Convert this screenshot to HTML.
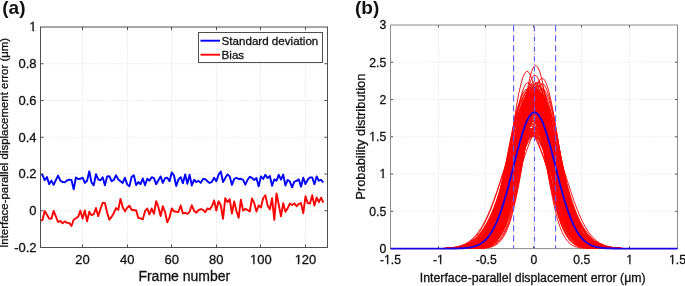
<!DOCTYPE html>
<html><head><meta charset="utf-8"><style>
html,body{margin:0;padding:0;background:#fff;width:685px;height:286px;overflow:hidden}
svg{display:block;will-change:transform}
text{font-family:"Liberation Sans", sans-serif;fill:#111;stroke:#111;stroke-width:0.3px}
</style></head><body>
<svg width="685" height="286" viewBox="0 0 685 286">
<rect width="685" height="286" fill="#fff"/>
<path d="M82.50 27.0V247.5M127.50 27.0V247.5M171.50 27.0V247.5M216.50 27.0V247.5M260.50 27.0V247.5M305.50 27.0V247.5M40.5 210.75H327.5M40.5 174.00H327.5M40.5 137.25H327.5M40.5 100.50H327.5M40.5 63.75H327.5" stroke="#e0e0e0" stroke-width="1" stroke-dasharray="1 1.6" fill="none"/>
<polyline points="40.25,220.5 42.48,220.0 44.71,211.1 46.94,214.8 49.17,218.5 51.39,218.8 53.62,210.9 55.85,216.4 58.08,222.0 60.31,220.9 62.54,223.3 64.77,221.4 67.00,222.9 69.23,222.9 71.46,226.0 73.69,219.7 75.91,218.2 78.14,216.8 80.37,210.7 82.60,218.5 84.83,210.4 87.06,221.2 89.29,211.7 91.52,215.2 93.75,214.2 95.97,208.0 98.20,216.2 100.43,209.3 102.66,202.7 104.89,203.0 107.12,212.5 109.35,219.7 111.58,216.9 113.81,213.0 116.04,208.1 118.27,209.8 120.49,198.9 122.72,207.2 124.95,211.4 127.18,207.7 129.41,205.7 131.64,209.8 133.87,210.3 136.10,210.3 138.33,217.9 140.56,218.4 142.78,219.3 145.01,211.2 147.24,208.5 149.47,214.4 151.70,208.5 153.93,213.8 156.16,201.1 158.39,207.2 160.62,216.0 162.84,206.3 165.07,212.0 167.30,222.4 169.53,217.3 171.76,208.4 173.99,211.3 176.22,211.8 178.45,212.0 180.68,205.5 182.91,213.4 185.14,212.8 187.36,213.9 189.59,211.8 191.82,205.3 194.05,210.7 196.28,212.7 198.51,210.1 200.74,209.1 202.97,209.9 205.20,212.2 207.43,208.4 209.65,209.4 211.88,206.3 214.11,200.5 216.34,210.5 218.57,201.3 220.80,205.2 223.03,218.9 225.26,198.2 227.49,202.1 229.72,199.2 231.94,213.6 234.17,201.4 236.40,211.0 238.63,217.8 240.86,199.7 243.09,210.5 245.32,208.9 247.55,209.9 249.78,211.5 252.00,198.4 254.23,203.1 256.46,211.5 258.69,205.5 260.92,207.6 263.15,198.2 265.38,195.2 267.61,205.4 269.84,209.2 272.07,198.2 274.30,220.0 276.52,193.4 278.75,204.6 280.98,216.3 283.21,203.2 285.44,211.8 287.67,208.2 289.90,203.5 292.13,205.0 294.36,203.4 296.59,206.2 298.81,204.0 301.04,203.1 303.27,213.2 305.50,196.3 307.73,203.1 309.96,203.5 312.19,195.2 314.42,205.6 316.65,197.4 318.88,202.2 321.10,197.7 323.33,202.7" fill="none" stroke="#ff0000" stroke-width="1.9" stroke-linejoin="round"/>
<polyline points="40.25,174.2 42.48,174.8 44.71,180.2 46.94,177.1 49.17,184.2 51.39,180.6 53.62,184.8 55.85,180.2 58.08,175.6 60.31,180.6 62.54,182.0 64.77,182.4 67.00,180.5 69.23,179.7 71.46,180.0 73.69,189.3 75.91,177.5 78.14,179.0 80.37,178.8 82.60,177.7 84.83,182.9 87.06,180.7 89.29,171.3 91.52,182.5 93.75,185.3 95.97,174.2 98.20,179.4 100.43,180.3 102.66,177.2 104.89,185.3 107.12,176.4 109.35,176.2 111.58,181.2 113.81,180.0 116.04,175.3 118.27,179.4 120.49,181.2 122.72,182.9 124.95,177.7 127.18,184.4 129.41,186.4 131.64,176.8 133.87,175.3 136.10,185.1 138.33,182.0 140.56,184.2 142.78,178.5 145.01,185.3 147.24,178.8 149.47,180.7 151.70,177.2 153.93,178.1 156.16,184.2 158.39,180.3 160.62,176.4 162.84,182.9 165.07,178.1 167.30,177.7 169.53,181.2 171.76,172.4 173.99,175.5 176.22,186.0 178.45,179.4 180.68,177.2 182.91,183.2 185.14,174.4 187.36,183.8 189.59,174.6 191.82,185.5 194.05,179.8 196.28,182.0 198.51,180.9 200.74,182.9 202.97,179.0 205.20,179.1 207.43,181.2 209.65,183.0 211.88,181.8 214.11,177.7 216.34,181.2 218.57,174.6 220.80,171.5 223.03,182.0 225.26,178.1 227.49,174.4 229.72,176.4 231.94,184.9 234.17,179.0 236.40,177.7 238.63,179.0 240.86,178.8 243.09,179.8 245.32,184.7 247.55,179.8 249.78,176.8 252.00,177.9 254.23,180.0 256.46,177.9 258.69,186.4 260.92,176.4 263.15,179.0 265.38,174.8 267.61,178.1 269.84,175.9 272.07,185.8 274.30,179.4 276.52,180.7 278.75,174.8 280.98,179.7 283.21,174.6 285.44,185.5 287.67,179.9 289.90,181.6 292.13,187.3 294.36,181.6 296.59,180.9 298.81,179.4 301.04,186.7 303.27,177.7 305.50,184.1 307.73,179.7 309.96,177.4 312.19,177.4 314.42,184.2 316.65,176.5 318.88,180.7 321.10,179.9 323.33,182.5" fill="none" stroke="#0000ff" stroke-width="1.9" stroke-linejoin="round"/>
<path d="M82.50 247.5v-3M82.50 27.0v3M127.50 247.5v-3M127.50 27.0v3M171.50 247.5v-3M171.50 27.0v3M216.50 247.5v-3M216.50 27.0v3M260.50 247.5v-3M260.50 27.0v3M305.50 247.5v-3M305.50 27.0v3M40.5 210.75h3M327.5 210.75h-3M40.5 174.00h3M327.5 174.00h-3M40.5 137.25h3M327.5 137.25h-3M40.5 100.50h3M327.5 100.50h-3M40.5 63.75h3M327.5 63.75h-3" stroke="#4f4f4f" stroke-width="1" fill="none"/>
<rect x="40.5" y="27.0" width="287.0" height="220.5" fill="none" stroke="#4f4f4f" stroke-width="1"/>
<rect x="198.5" y="32.5" width="124" height="30" fill="#fff" stroke="#4f4f4f" stroke-width="1"/>
<path d="M200.5 40.7H220" stroke="#0000ff" stroke-width="1.9"/>
<path d="M200.5 54.7H220" stroke="#ff0000" stroke-width="1.9"/>
<text x="221.6" y="44.8" font-size="11.6">Standard deviation</text>
<text x="221.6" y="59.2" font-size="11.6">Bias</text>
<text x="82.60" y="264.30" font-size="13" text-anchor="middle">20</text>
<text x="127.18" y="264.30" font-size="13" text-anchor="middle">40</text>
<text x="171.76" y="264.30" font-size="13" text-anchor="middle">60</text>
<text x="216.34" y="264.30" font-size="13" text-anchor="middle">80</text>
<text x="260.92" y="264.30" font-size="13" text-anchor="middle">100</text>
<text x="305.50" y="264.30" font-size="13" text-anchor="middle">120</text>
<text x="36.60" y="251.90" font-size="13" text-anchor="end">-0.2</text>
<text x="36.60" y="215.15" font-size="13" text-anchor="end">0</text>
<text x="36.60" y="178.40" font-size="13" text-anchor="end">0.2</text>
<text x="36.60" y="141.65" font-size="13" text-anchor="end">0.4</text>
<text x="36.60" y="104.90" font-size="13" text-anchor="end">0.6</text>
<text x="36.60" y="68.15" font-size="13" text-anchor="end">0.8</text>
<text x="36.60" y="31.40" font-size="13" text-anchor="end">1</text>
<text x="184.3" y="280.8" font-size="14" text-anchor="middle">Frame number</text>
<text transform="translate(8.4 142.85) rotate(-90)" font-size="11.45" text-anchor="middle">Interface-parallel displacement error (&#956;m)</text>
<text x="2.3" y="13.6" font-size="19" font-weight="bold" style="stroke:none">(a)</text>
<path d="M438.50 25.0V248.6M485.50 25.0V248.6M533.50 25.0V248.6M581.50 25.0V248.6M629.50 25.0V248.6M390.5 211.33H677.5M390.5 174.07H677.5M390.5 136.80H677.5M390.5 99.53H677.5M390.5 62.27H677.5" stroke="#e0e0e0" stroke-width="1" stroke-dasharray="1 1.6" fill="none"/>
<path d="M438.50 248.6v-2.5M438.50 25.0v2.5M485.50 248.6v-2.5M485.50 25.0v2.5M533.50 248.6v-2.5M533.50 25.0v2.5M581.50 248.6v-2.5M581.50 25.0v2.5M629.50 248.6v-2.5M629.50 25.0v2.5M390.5 211.33h2.5M677.5 211.33h-2.5M390.5 174.07h2.5M677.5 174.07h-2.5M390.5 136.80h2.5M677.5 136.80h-2.5M390.5 99.53h2.5M677.5 99.53h-2.5M390.5 62.27h2.5M677.5 62.27h-2.5" stroke="#555" stroke-width="1" fill="none"/>
<rect x="390.5" y="25.0" width="287.0" height="223.6" fill="none" stroke="#8c8c8c" stroke-width="1"/>
<path d="M452.0 248.3L455.0 248.1L458.0 247.9L461.1 247.6L464.1 247.1L467.1 246.5L470.1 245.7L473.1 244.5L476.1 243.1L479.1 241.1L482.2 238.7L485.2 235.7L488.2 232.0L491.2 227.6L494.2 222.4L497.2 216.4L500.3 209.7L503.3 202.3L506.3 194.2L509.3 185.8L512.3 177.1L515.3 168.4L518.3 160.1L521.4 152.4L524.4 145.6L527.4 139.9L530.4 135.7L533.4 133.1L536.4 132.2L539.5 133.1L542.5 135.7L545.5 139.9L548.5 145.6L551.5 152.4L554.5 160.1L557.5 168.4L560.6 177.1L563.6 185.8L566.6 194.2L569.6 202.3L572.6 209.7L575.6 216.4L578.7 222.4L581.7 227.6L584.7 232.0L587.7 235.7L590.7 238.7L593.7 241.1L596.8 243.1L599.8 244.5L602.8 245.7L605.8 246.5L608.8 247.1L611.8 247.6L614.8 247.9L617.9 248.1L620.9 248.3M473.2 248.3L475.5 248.1L477.8 247.9L480.0 247.5L482.3 247.0L484.6 246.3L486.9 245.3L489.2 244.0L491.5 242.2L493.8 239.8L496.0 236.8L498.3 233.0L500.6 228.3L502.9 222.6L505.2 215.8L507.5 207.8L509.7 198.8L512.0 188.8L514.3 177.8L516.6 166.2L518.9 154.2L521.2 142.2L523.5 130.5L525.7 119.7L528.0 110.0L530.3 102.1L532.6 96.1L534.9 92.4L537.2 91.1L539.4 92.4L541.7 96.1L544.0 102.1L546.3 110.0L548.6 119.7L550.9 130.5L553.2 142.2L555.4 154.2L557.7 166.2L560.0 177.8L562.3 188.8L564.6 198.8L566.9 207.8L569.1 215.8L571.4 222.6L573.7 228.3L576.0 233.0L578.3 236.8L580.6 239.8L582.9 242.2L585.1 244.0L587.4 245.3L589.7 246.3L592.0 247.0L594.3 247.5L596.6 247.9L598.8 248.1L601.1 248.3M475.4 248.3L477.6 248.1L479.8 247.9L482.0 247.5L484.2 247.0L486.4 246.3L488.6 245.3L490.9 243.9L493.1 242.1L495.3 239.7L497.5 236.6L499.7 232.6L501.9 227.8L504.1 221.9L506.3 214.9L508.5 206.7L510.8 197.4L513.0 187.0L515.2 175.6L517.4 163.6L519.6 151.1L521.8 138.6L524.0 126.5L526.2 115.2L528.5 105.2L530.7 96.9L532.9 90.7L535.1 86.9L537.3 85.5L539.5 86.9L541.7 90.7L543.9 96.9L546.2 105.2L548.4 115.2L550.6 126.5L552.8 138.6L555.0 151.1L557.2 163.6L559.4 175.6L561.6 187.0L563.9 197.4L566.1 206.7L568.3 214.9L570.5 221.9L572.7 227.8L574.9 232.6L577.1 236.6L579.3 239.7L581.6 242.1L583.8 243.9L586.0 245.3L588.2 246.3L590.4 247.0L592.6 247.5L594.8 247.9L597.0 248.1L599.3 248.3M461.3 248.3L463.8 248.1L466.4 247.9L469.0 247.6L471.6 247.1L474.1 246.4L476.7 245.5L479.3 244.2L481.8 242.6L484.4 240.4L487.0 237.6L489.5 234.2L492.1 229.9L494.7 224.8L497.2 218.7L499.8 211.7L502.4 203.7L504.9 194.9L507.5 185.3L510.1 175.1L512.7 164.6L515.2 154.2L517.8 144.0L520.4 134.6L522.9 126.3L525.5 119.4L528.1 114.3L530.6 111.1L533.2 110.0L535.8 111.1L538.3 114.3L540.9 119.4L543.5 126.3L546.0 134.6L548.6 144.0L551.2 154.2L553.7 164.6L556.3 175.1L558.9 185.3L561.5 194.9L564.0 203.7L566.6 211.7L569.2 218.7L571.7 224.8L574.3 229.9L576.9 234.2L579.4 237.6L582.0 240.4L584.6 242.6L587.1 244.2L589.7 245.5L592.3 246.4L594.8 247.1L597.4 247.6L600.0 247.9L602.6 248.1L605.1 248.3M474.0 248.3L476.3 248.1L478.6 247.9L480.9 247.5L483.2 247.0L485.5 246.3L487.8 245.3L490.1 244.0L492.4 242.2L494.7 239.9L497.0 236.8L499.3 233.1L501.6 228.4L503.8 222.7L506.1 215.9L508.4 208.1L510.7 199.1L513.0 189.1L515.3 178.2L517.6 166.7L519.9 154.8L522.2 142.8L524.5 131.3L526.8 120.5L529.1 111.0L531.4 103.0L533.7 97.1L536.0 93.4L538.3 92.2L540.6 93.4L542.9 97.1L545.2 103.0L547.5 111.0L549.8 120.5L552.1 131.3L554.4 142.8L556.7 154.8L559.0 166.7L561.3 178.2L563.6 189.1L565.9 199.1L568.2 208.1L570.5 215.9L572.8 222.7L575.1 228.4L577.4 233.1L579.7 236.8L582.0 239.9L584.3 242.2L586.6 244.0L588.9 245.3L591.2 246.3L593.5 247.0L595.8 247.5L598.1 247.9L600.4 248.1L602.7 248.3M465.2 248.3L467.5 248.1L469.9 247.9L472.2 247.5L474.5 247.0L476.8 246.3L479.1 245.3L481.4 244.0L483.8 242.2L486.1 239.9L488.4 236.9L490.7 233.1L493.0 228.5L495.4 222.9L497.7 216.2L500.0 208.4L502.3 199.5L504.6 189.6L507.0 178.8L509.3 167.4L511.6 155.6L513.9 143.8L516.2 132.3L518.6 121.7L520.9 112.2L523.2 104.4L525.5 98.5L527.8 94.9L530.2 93.7L532.5 94.9L534.8 98.5L537.1 104.4L539.4 112.2L541.7 121.7L544.1 132.3L546.4 143.8L548.7 155.6L551.0 167.4L553.3 178.8L555.7 189.6L558.0 199.5L560.3 208.4L562.6 216.2L564.9 222.9L567.3 228.5L569.6 233.1L571.9 236.9L574.2 239.9L576.5 242.2L578.9 244.0L581.2 245.3L583.5 246.3L585.8 247.0L588.1 247.5L590.4 247.9L592.8 248.1L595.1 248.3M464.5 248.3L467.0 248.1L469.4 247.9L471.9 247.6L474.3 247.1L476.8 246.4L479.3 245.4L481.7 244.1L484.2 242.4L486.6 240.2L489.1 237.3L491.5 233.7L494.0 229.3L496.5 224.0L498.9 217.6L501.4 210.3L503.8 201.9L506.3 192.6L508.7 182.5L511.2 171.8L513.6 160.8L516.1 149.7L518.6 139.0L521.0 129.1L523.5 120.3L525.9 113.0L528.4 107.6L530.8 104.2L533.3 103.0L535.7 104.2L538.2 107.6L540.7 113.0L543.1 120.3L545.6 129.1L548.0 139.0L550.5 149.7L552.9 160.8L555.4 171.8L557.8 182.5L560.3 192.6L562.8 201.9L565.2 210.3L567.7 217.6L570.1 224.0L572.6 229.3L575.0 233.7L577.5 237.3L579.9 240.2L582.4 242.4L584.9 244.1L587.3 245.4L589.8 246.4L592.2 247.1L594.7 247.6L597.1 247.9L599.6 248.1L602.0 248.3M475.5 248.3L477.8 248.1L480.1 247.9L482.4 247.5L484.7 247.0L487.0 246.3L489.3 245.3L491.6 244.0L494.0 242.2L496.3 239.9L498.6 236.9L500.9 233.1L503.2 228.4L505.5 222.8L507.8 216.0L510.1 208.2L512.4 199.3L514.7 189.4L517.1 178.6L519.4 167.1L521.7 155.2L524.0 143.4L526.3 131.9L528.6 121.2L530.9 111.7L533.2 103.8L535.5 97.9L537.8 94.2L540.2 93.0L542.5 94.2L544.8 97.9L547.1 103.8L549.4 111.7L551.7 121.2L554.0 131.9L556.3 143.4L558.6 155.2L560.9 167.1L563.3 178.6L565.6 189.4L567.9 199.3L570.2 208.2L572.5 216.0L574.8 222.8L577.1 228.4L579.4 233.1L581.7 236.9L584.0 239.9L586.3 242.2L588.7 244.0L591.0 245.3L593.3 246.3L595.6 247.0L597.9 247.5L600.2 247.9L602.5 248.1L604.8 248.3M448.6 248.3L451.7 248.1L454.8 247.9L457.9 247.6L460.9 247.2L464.0 246.5L467.1 245.7L470.2 244.6L473.2 243.1L476.3 241.2L479.4 238.8L482.5 235.9L485.5 232.3L488.6 227.9L491.7 222.8L494.8 217.0L497.8 210.4L500.9 203.1L504.0 195.2L507.1 187.0L510.1 178.5L513.2 170.0L516.3 161.9L519.4 154.3L522.4 147.7L525.5 142.2L528.6 138.1L531.7 135.5L534.7 134.7L537.8 135.5L540.9 138.1L544.0 142.2L547.0 147.7L550.1 154.3L553.2 161.9L556.3 170.0L559.3 178.5L562.4 187.0L565.5 195.2L568.6 203.1L571.6 210.4L574.7 217.0L577.8 222.8L580.9 227.9L583.9 232.3L587.0 235.9L590.1 238.8L593.2 241.2L596.2 243.1L599.3 244.6L602.4 245.7L605.5 246.5L608.5 247.2L611.6 247.6L614.7 247.9L617.8 248.1L620.8 248.3M472.1 248.3L474.3 248.1L476.6 247.9L478.8 247.5L481.1 247.0L483.4 246.3L485.6 245.3L487.9 243.9L490.1 242.1L492.4 239.8L494.7 236.7L496.9 232.9L499.2 228.1L501.4 222.3L503.7 215.5L506.0 207.5L508.2 198.3L510.5 188.2L512.7 177.1L515.0 165.3L517.3 153.2L519.5 141.0L521.8 129.2L524.0 118.2L526.3 108.4L528.6 100.4L530.8 94.3L533.1 90.5L535.3 89.3L537.6 90.5L539.9 94.3L542.1 100.4L544.4 108.4L546.6 118.2L548.9 129.2L551.2 141.0L553.4 153.2L555.7 165.3L557.9 177.1L560.2 188.2L562.5 198.3L564.7 207.5L567.0 215.5L569.2 222.3L571.5 228.1L573.8 232.9L576.0 236.7L578.3 239.8L580.5 242.1L582.8 243.9L585.1 245.3L587.3 246.3L589.6 247.0L591.8 247.5L594.1 247.9L596.4 248.1L598.6 248.3M445.3 248.3L448.4 248.1L451.5 247.9L454.6 247.6L457.8 247.2L460.9 246.5L464.0 245.7L467.1 244.6L470.2 243.2L473.3 241.3L476.4 238.9L479.5 236.0L482.7 232.4L485.8 228.1L488.9 223.1L492.0 217.3L495.1 210.8L498.2 203.6L501.3 195.9L504.5 187.7L507.6 179.3L510.7 171.0L513.8 163.0L516.9 155.6L520.0 149.0L523.1 143.6L526.2 139.5L529.4 137.0L532.5 136.2L535.6 137.0L538.7 139.5L541.8 143.6L544.9 149.0L548.0 155.6L551.1 163.0L554.3 171.0L557.4 179.3L560.5 187.7L563.6 195.9L566.7 203.6L569.8 210.8L572.9 217.3L576.0 223.1L579.2 228.1L582.3 232.4L585.4 236.0L588.5 238.9L591.6 241.3L594.7 243.2L597.8 244.6L601.0 245.7L604.1 246.5L607.2 247.2L610.3 247.6L613.4 247.9L616.5 248.1L619.6 248.3M454.9 248.3L457.6 248.1L460.3 247.9L462.9 247.6L465.6 247.1L468.2 246.4L470.9 245.5L473.6 244.3L476.2 242.7L478.9 240.6L481.5 237.9L484.2 234.5L486.9 230.4L489.5 225.5L492.2 219.6L494.8 212.8L497.5 205.1L500.2 196.6L502.8 187.3L505.5 177.6L508.1 167.5L510.8 157.5L513.5 147.8L516.1 138.8L518.8 130.8L521.4 124.2L524.1 119.3L526.8 116.2L529.4 115.2L532.1 116.2L534.7 119.3L537.4 124.2L540.1 130.8L542.7 138.8L545.4 147.8L548.0 157.5L550.7 167.5L553.4 177.6L556.0 187.3L558.7 196.6L561.3 205.1L564.0 212.8L566.7 219.6L569.3 225.5L572.0 230.4L574.7 234.5L577.3 237.9L580.0 240.6L582.6 242.7L585.3 244.3L588.0 245.5L590.6 246.4L593.3 247.1L595.9 247.6L598.6 247.9L601.3 248.1L603.9 248.3M446.0 248.3L449.0 248.1L452.0 247.9L455.1 247.6L458.1 247.2L461.1 246.5L464.2 245.7L467.2 244.6L470.2 243.1L473.3 241.2L476.3 238.8L479.3 235.7L482.4 232.1L485.4 227.7L488.4 222.5L491.5 216.6L494.5 209.9L497.5 202.5L500.6 194.5L503.6 186.1L506.6 177.5L509.7 168.9L512.7 160.6L515.7 152.9L518.8 146.2L521.8 140.6L524.8 136.4L527.9 133.8L530.9 132.9L533.9 133.8L537.0 136.4L540.0 140.6L543.0 146.2L546.1 152.9L549.1 160.6L552.1 168.9L555.2 177.5L558.2 186.1L561.2 194.5L564.2 202.5L567.3 209.9L570.3 216.6L573.3 222.5L576.4 227.7L579.4 232.1L582.4 235.7L585.5 238.8L588.5 241.2L591.5 243.1L594.6 244.6L597.6 245.7L600.6 246.5L603.7 247.2L606.7 247.6L609.7 247.9L612.8 248.1L615.8 248.3M470.3 248.3L472.7 248.1L475.1 247.9L477.4 247.5L479.8 247.0L482.2 246.3L484.6 245.4L487.0 244.1L489.4 242.3L491.8 240.0L494.2 237.1L496.6 233.5L498.9 228.9L501.3 223.4L503.7 216.9L506.1 209.4L508.5 200.8L510.9 191.2L513.3 180.8L515.7 169.7L518.1 158.3L520.4 146.9L522.8 135.9L525.2 125.6L527.6 116.5L530.0 108.9L532.4 103.3L534.8 99.8L537.2 98.6L539.6 99.8L541.9 103.3L544.3 108.9L546.7 116.5L549.1 125.6L551.5 135.9L553.9 146.9L556.3 158.3L558.7 169.7L561.1 180.8L563.4 191.2L565.8 200.8L568.2 209.4L570.6 216.9L573.0 223.4L575.4 228.9L577.8 233.5L580.2 237.1L582.6 240.0L584.9 242.3L587.3 244.1L589.7 245.4L592.1 246.3L594.5 247.0L596.9 247.5L599.3 247.9L601.7 248.1L604.1 248.3M473.5 248.3L475.8 248.1L478.2 247.9L480.5 247.5L482.9 247.0L485.2 246.3L487.6 245.4L489.9 244.0L492.3 242.3L494.6 240.0L497.0 237.0L499.3 233.3L501.7 228.7L504.0 223.1L506.4 216.5L508.7 208.8L511.1 200.1L513.4 190.3L515.8 179.7L518.1 168.5L520.5 156.8L522.8 145.2L525.2 133.9L527.5 123.5L529.9 114.2L532.2 106.5L534.6 100.7L536.9 97.1L539.3 95.9L541.6 97.1L544.0 100.7L546.3 106.5L548.7 114.2L551.0 123.5L553.4 133.9L555.7 145.2L558.1 156.8L560.4 168.5L562.8 179.7L565.1 190.3L567.5 200.1L569.8 208.8L572.2 216.5L574.5 223.1L576.9 228.7L579.2 233.3L581.6 237.0L583.9 240.0L586.3 242.3L588.7 244.0L591.0 245.4L593.4 246.3L595.7 247.0L598.1 247.5L600.4 247.9L602.8 248.1L605.1 248.3M477.9 248.3L480.1 248.1L482.2 247.9L484.4 247.5L486.6 247.0L488.7 246.3L490.9 245.2L493.1 243.8L495.2 242.0L497.4 239.5L499.5 236.4L501.7 232.4L503.9 227.4L506.0 221.4L508.2 214.3L510.4 205.9L512.5 196.4L514.7 185.7L516.9 174.1L519.0 161.7L521.2 148.9L523.3 136.1L525.5 123.7L527.7 112.1L529.8 101.8L532.0 93.3L534.2 86.9L536.3 82.9L538.5 81.5L540.7 82.9L542.8 86.9L545.0 93.3L547.1 101.8L549.3 112.1L551.5 123.7L553.6 136.1L555.8 148.9L558.0 161.7L560.1 174.1L562.3 185.7L564.4 196.4L566.6 205.9L568.8 214.3L570.9 221.4L573.1 227.4L575.3 232.4L577.4 236.4L579.6 239.5L581.8 242.0L583.9 243.8L586.1 245.2L588.2 246.3L590.4 247.0L592.6 247.5L594.7 247.9L596.9 248.1L599.1 248.3M467.3 248.3L469.6 248.1L472.0 247.9L474.3 247.5L476.7 247.0L479.0 246.3L481.4 245.4L483.7 244.0L486.1 242.3L488.4 240.0L490.8 237.0L493.1 233.3L495.5 228.7L497.8 223.1L500.2 216.5L502.5 208.8L504.9 200.1L507.2 190.3L509.6 179.7L511.9 168.5L514.3 156.9L516.6 145.3L519.0 134.0L521.3 123.5L523.7 114.3L526.0 106.6L528.4 100.8L530.8 97.2L533.1 96.0L535.5 97.2L537.8 100.8L540.2 106.6L542.5 114.3L544.9 123.5L547.2 134.0L549.6 145.3L551.9 156.9L554.3 168.5L556.6 179.7L559.0 190.3L561.3 200.1L563.7 208.8L566.0 216.5L568.4 223.1L570.7 228.7L573.1 233.3L575.4 237.0L577.8 240.0L580.1 242.3L582.5 244.0L584.8 245.4L587.2 246.3L589.5 247.0L591.9 247.5L594.2 247.9L596.6 248.1L599.0 248.3M463.3 248.3L465.7 248.1L468.1 247.9L470.5 247.5L472.9 247.0L475.2 246.3L477.6 245.4L480.0 244.1L482.4 242.3L484.8 240.0L487.2 237.1L489.6 233.4L491.9 228.9L494.3 223.4L496.7 216.9L499.1 209.3L501.5 200.7L503.9 191.1L506.2 180.6L508.6 169.6L511.0 158.2L513.4 146.7L515.8 135.7L518.2 125.4L520.6 116.2L522.9 108.7L525.3 103.0L527.7 99.5L530.1 98.3L532.5 99.5L534.9 103.0L537.3 108.7L539.6 116.2L542.0 125.4L544.4 135.7L546.8 146.7L549.2 158.2L551.6 169.6L553.9 180.6L556.3 191.1L558.7 200.7L561.1 209.3L563.5 216.9L565.9 223.4L568.3 228.9L570.6 233.4L573.0 237.1L575.4 240.0L577.8 242.3L580.2 244.1L582.6 245.4L584.9 246.3L587.3 247.0L589.7 247.5L592.1 247.9L594.5 248.1L596.9 248.3M464.8 248.3L467.6 248.1L470.3 247.9L473.0 247.6L475.7 247.1L478.5 246.4L481.2 245.5L483.9 244.3L486.6 242.7L489.4 240.7L492.1 238.0L494.8 234.8L497.5 230.7L500.2 225.9L503.0 220.1L505.7 213.5L508.4 206.0L511.1 197.7L513.9 188.7L516.6 179.2L519.3 169.4L522.0 159.6L524.7 150.2L527.5 141.4L530.2 133.7L532.9 127.3L535.6 122.5L538.4 119.5L541.1 118.5L543.8 119.5L546.5 122.5L549.3 127.3L552.0 133.7L554.7 141.4L557.4 150.2L560.1 159.6L562.9 169.4L565.6 179.2L568.3 188.7L571.0 197.7L573.8 206.0L576.5 213.5L579.2 220.1L581.9 225.9L584.7 230.7L587.4 234.8L590.1 238.0L592.8 240.7L595.5 242.7L598.3 244.3L601.0 245.5L603.7 246.4L606.4 247.1L609.2 247.6L611.9 247.9L614.6 248.1L617.3 248.3M453.8 248.3L456.6 248.1L459.4 247.9L462.2 247.6L465.0 247.1L467.9 246.5L470.7 245.6L473.5 244.4L476.3 242.9L479.2 240.8L482.0 238.3L484.8 235.1L487.6 231.2L490.4 226.5L493.3 221.0L496.1 214.6L498.9 207.3L501.7 199.3L504.5 190.7L507.4 181.5L510.2 172.2L513.0 162.8L515.8 153.8L518.7 145.4L521.5 138.0L524.3 131.8L527.1 127.3L529.9 124.4L532.8 123.5L535.6 124.4L538.4 127.3L541.2 131.8L544.0 138.0L546.9 145.4L549.7 153.8L552.5 162.8L555.3 172.2L558.2 181.5L561.0 190.7L563.8 199.3L566.6 207.3L569.4 214.6L572.3 221.0L575.1 226.5L577.9 231.2L580.7 235.1L583.5 238.3L586.4 240.8L589.2 242.9L592.0 244.4L594.8 245.6L597.7 246.5L600.5 247.1L603.3 247.6L606.1 247.9L608.9 248.1L611.8 248.3M463.6 248.3L466.1 248.1L468.6 247.9L471.1 247.6L473.6 247.1L476.0 246.4L478.5 245.4L481.0 244.1L483.5 242.5L486.0 240.2L488.5 237.4L490.9 233.8L493.4 229.5L495.9 224.2L498.4 217.9L500.9 210.6L503.3 202.3L505.8 193.2L508.3 183.2L510.8 172.6L513.3 161.7L515.8 150.8L518.2 140.2L520.7 130.4L523.2 121.7L525.7 114.6L528.2 109.2L530.6 105.8L533.1 104.7L535.6 105.8L538.1 109.2L540.6 114.6L543.1 121.7L545.5 130.4L548.0 140.2L550.5 150.8L553.0 161.7L555.5 172.6L557.9 183.2L560.4 193.2L562.9 202.3L565.4 210.6L567.9 217.9L570.4 224.2L572.8 229.5L575.3 233.8L577.8 237.4L580.3 240.2L582.8 242.5L585.2 244.1L587.7 245.4L590.2 246.4L592.7 247.1L595.2 247.6L597.7 247.9L600.1 248.1L602.6 248.3M471.9 248.3L474.2 248.1L476.4 247.9L478.6 247.5L480.9 247.0L483.1 246.3L485.3 245.3L487.6 243.9L489.8 242.1L492.0 239.7L494.3 236.6L496.5 232.7L498.8 227.9L501.0 222.1L503.2 215.2L505.5 207.1L507.7 197.8L509.9 187.5L512.2 176.3L514.4 164.4L516.6 152.1L518.9 139.8L521.1 127.8L523.3 116.6L525.6 106.8L527.8 98.6L530.0 92.4L532.3 88.6L534.5 87.3L536.7 88.6L539.0 92.4L541.2 98.6L543.4 106.8L545.7 116.6L547.9 127.8L550.2 139.8L552.4 152.1L554.6 164.4L556.9 176.3L559.1 187.5L561.3 197.8L563.6 207.1L565.8 215.2L568.0 222.1L570.3 227.9L572.5 232.7L574.7 236.6L577.0 239.7L579.2 242.1L581.4 243.9L583.7 245.3L585.9 246.3L588.1 247.0L590.4 247.5L592.6 247.9L594.8 248.1L597.1 248.3M463.0 248.3L465.5 248.1L468.0 247.9L470.6 247.6L473.1 247.1L475.6 246.4L478.1 245.4L480.7 244.2L483.2 242.5L485.7 240.3L488.2 237.5L490.7 234.0L493.3 229.7L495.8 224.5L498.3 218.3L500.8 211.2L503.4 203.0L505.9 194.0L508.4 184.2L510.9 173.8L513.5 163.1L516.0 152.4L518.5 142.1L521.0 132.5L523.6 124.0L526.1 116.9L528.6 111.6L531.1 108.4L533.6 107.3L536.2 108.4L538.7 111.6L541.2 116.9L543.7 124.0L546.3 132.5L548.8 142.1L551.3 152.4L553.8 163.1L556.4 173.8L558.9 184.2L561.4 194.0L563.9 203.0L566.4 211.2L569.0 218.3L571.5 224.5L574.0 229.7L576.5 234.0L579.1 237.5L581.6 240.3L584.1 242.5L586.6 244.2L589.2 245.4L591.7 246.4L594.2 247.1L596.7 247.6L599.3 247.9L601.8 248.1L604.3 248.3M463.2 248.3L465.7 248.1L468.2 247.9L470.7 247.6L473.2 247.1L475.7 246.4L478.2 245.4L480.7 244.2L483.2 242.5L485.7 240.3L488.2 237.5L490.7 233.9L493.2 229.6L495.7 224.3L498.2 218.1L500.7 210.8L503.2 202.6L505.7 193.5L508.2 183.6L510.7 173.1L513.2 162.3L515.7 151.5L518.2 141.0L520.7 131.3L523.2 122.7L525.7 115.6L528.2 110.2L530.7 106.9L533.2 105.8L535.7 106.9L538.2 110.2L540.7 115.6L543.2 122.7L545.7 131.3L548.2 141.0L550.7 151.5L553.2 162.3L555.7 173.1L558.2 183.6L560.7 193.5L563.2 202.6L565.7 210.8L568.2 218.1L570.7 224.3L573.2 229.6L575.7 233.9L578.2 237.5L580.7 240.3L583.2 242.5L585.7 244.2L588.2 245.4L590.7 246.4L593.2 247.1L595.7 247.6L598.2 247.9L600.7 248.1L603.2 248.3M473.1 248.3L475.5 248.1L477.8 247.9L480.1 247.5L482.4 247.0L484.7 246.3L487.0 245.3L489.3 244.0L491.6 242.2L493.9 239.9L496.3 236.9L498.6 233.1L500.9 228.4L503.2 222.8L505.5 216.1L507.8 208.2L510.1 199.3L512.4 189.4L514.7 178.6L517.1 167.1L519.4 155.3L521.7 143.4L524.0 131.9L526.3 121.2L528.6 111.7L530.9 103.9L533.2 98.0L535.5 94.3L537.9 93.1L540.2 94.3L542.5 98.0L544.8 103.9L547.1 111.7L549.4 121.2L551.7 131.9L554.0 143.4L556.3 155.3L558.7 167.1L561.0 178.6L563.3 189.4L565.6 199.3L567.9 208.2L570.2 216.1L572.5 222.8L574.8 228.4L577.2 233.1L579.5 236.9L581.8 239.9L584.1 242.2L586.4 244.0L588.7 245.3L591.0 246.3L593.3 247.0L595.6 247.5L598.0 247.9L600.3 248.1L602.6 248.3M445.2 248.3L448.1 248.1L450.9 247.9L453.8 247.6L456.7 247.1L459.6 246.5L462.5 245.6L465.4 244.5L468.2 242.9L471.1 240.9L474.0 238.4L476.9 235.3L479.8 231.5L482.6 226.8L485.5 221.4L488.4 215.2L491.3 208.1L494.2 200.3L497.1 191.8L499.9 182.9L502.8 173.8L505.7 164.6L508.6 155.8L511.5 147.7L514.3 140.4L517.2 134.5L520.1 130.0L523.0 127.2L525.9 126.3L528.8 127.2L531.6 130.0L534.5 134.5L537.4 140.4L540.3 147.7L543.2 155.8L546.0 164.6L548.9 173.8L551.8 182.9L554.7 191.8L557.6 200.3L560.4 208.1L563.3 215.2L566.2 221.4L569.1 226.8L572.0 231.5L574.9 235.3L577.7 238.4L580.6 240.9L583.5 242.9L586.4 244.5L589.3 245.6L592.1 246.5L595.0 247.1L597.9 247.6L600.8 247.9L603.7 248.1L606.6 248.3M471.1 248.3L473.4 248.1L475.7 247.9L478.0 247.5L480.2 247.0L482.5 246.3L484.8 245.3L487.1 244.0L489.3 242.2L491.6 239.8L493.9 236.8L496.2 232.9L498.4 228.2L500.7 222.5L503.0 215.6L505.3 207.7L507.5 198.6L509.8 188.5L512.1 177.5L514.4 165.8L516.6 153.8L518.9 141.7L521.2 130.0L523.5 119.0L525.7 109.4L528.0 101.3L530.3 95.3L532.5 91.6L534.8 90.3L537.1 91.6L539.4 95.3L541.6 101.3L543.9 109.4L546.2 119.0L548.5 130.0L550.7 141.7L553.0 153.8L555.3 165.8L557.6 177.5L559.8 188.5L562.1 198.6L564.4 207.7L566.7 215.6L568.9 222.5L571.2 228.2L573.5 232.9L575.8 236.8L578.0 239.8L580.3 242.2L582.6 244.0L584.9 245.3L587.1 246.3L589.4 247.0L591.7 247.5L593.9 247.9L596.2 248.1L598.5 248.3M475.3 248.3L477.7 248.1L480.1 247.9L482.4 247.5L484.8 247.0L487.2 246.3L489.5 245.4L491.9 244.0L494.3 242.3L496.6 240.0L499.0 237.1L501.4 233.4L503.7 228.8L506.1 223.2L508.5 216.7L510.8 209.0L513.2 200.3L515.6 190.7L517.9 180.1L520.3 169.0L522.7 157.4L525.0 145.9L527.4 134.7L529.8 124.3L532.1 115.1L534.5 107.5L536.9 101.8L539.2 98.2L541.6 97.0L543.9 98.2L546.3 101.8L548.7 107.5L551.0 115.1L553.4 124.3L555.8 134.7L558.1 145.9L560.5 157.4L562.9 169.0L565.2 180.1L567.6 190.7L570.0 200.3L572.3 209.0L574.7 216.7L577.1 223.2L579.4 228.8L581.8 233.4L584.2 237.1L586.5 240.0L588.9 242.3L591.3 244.0L593.6 245.4L596.0 246.3L598.4 247.0L600.7 247.5L603.1 247.9L605.5 248.1L607.8 248.3M477.6 248.3L479.8 248.1L482.1 247.9L484.4 247.5L486.6 247.0L488.9 246.3L491.2 245.3L493.4 244.0L495.7 242.1L498.0 239.8L500.2 236.7L502.5 232.9L504.8 228.1L507.0 222.4L509.3 215.5L511.6 207.6L513.8 198.5L516.1 188.3L518.4 177.3L520.6 165.6L522.9 153.4L525.2 141.3L527.4 129.5L529.7 118.6L532.0 108.8L534.2 100.8L536.5 94.7L538.8 91.0L541.0 89.7L543.3 91.0L545.6 94.7L547.8 100.8L550.1 108.8L552.4 118.6L554.6 129.5L556.9 141.3L559.2 153.4L561.4 165.6L563.7 177.3L566.0 188.3L568.2 198.5L570.5 207.6L572.8 215.5L575.0 222.4L577.3 228.1L579.6 232.9L581.8 236.7L584.1 239.8L586.4 242.1L588.6 244.0L590.9 245.3L593.2 246.3L595.4 247.0L597.7 247.5L600.0 247.9L602.2 248.1L604.5 248.3M470.2 248.3L472.4 248.1L474.6 247.9L476.9 247.5L479.1 247.0L481.3 246.3L483.5 245.3L485.8 243.9L488.0 242.1L490.2 239.7L492.4 236.6L494.7 232.7L496.9 227.9L499.1 222.0L501.3 215.0L503.5 206.9L505.8 197.6L508.0 187.3L510.2 176.0L512.4 164.0L514.7 151.7L516.9 139.3L519.1 127.2L521.3 116.0L523.6 106.1L525.8 97.8L528.0 91.6L530.2 87.8L532.5 86.5L534.7 87.8L536.9 91.6L539.1 97.8L541.4 106.1L543.6 116.0L545.8 127.2L548.0 139.3L550.3 151.7L552.5 164.0L554.7 176.0L556.9 187.3L559.2 197.6L561.4 206.9L563.6 215.0L565.8 222.0L568.1 227.9L570.3 232.7L572.5 236.6L574.7 239.7L577.0 242.1L579.2 243.9L581.4 245.3L583.6 246.3L585.9 247.0L588.1 247.5L590.3 247.9L592.5 248.1L594.8 248.3M473.9 248.3L476.1 248.1L478.4 247.9L480.7 247.5L483.0 247.0L485.2 246.3L487.5 245.3L489.8 244.0L492.1 242.2L494.3 239.8L496.6 236.8L498.9 233.0L501.2 228.2L503.5 222.5L505.7 215.7L508.0 207.7L510.3 198.7L512.6 188.6L514.8 177.6L517.1 165.9L519.4 153.9L521.7 141.8L524.0 130.1L526.2 119.2L528.5 109.6L530.8 101.5L533.1 95.5L535.3 91.8L537.6 90.6L539.9 91.8L542.2 95.5L544.4 101.5L546.7 109.6L549.0 119.2L551.3 130.1L553.6 141.8L555.8 153.9L558.1 165.9L560.4 177.6L562.7 188.6L564.9 198.7L567.2 207.7L569.5 215.7L571.8 222.5L574.0 228.2L576.3 233.0L578.6 236.8L580.9 239.8L583.2 242.2L585.4 244.0L587.7 245.3L590.0 246.3L592.3 247.0L594.5 247.5L596.8 247.9L599.1 248.1L601.4 248.3M443.2 248.3L446.1 248.1L449.1 247.9L452.0 247.6L455.0 247.1L458.0 246.5L460.9 245.6L463.9 244.5L466.8 243.0L469.8 241.0L472.7 238.6L475.7 235.5L478.6 231.8L481.6 227.3L484.5 222.0L487.5 215.9L490.4 209.0L493.4 201.4L496.3 193.1L499.3 184.5L502.2 175.6L505.2 166.7L508.2 158.1L511.1 150.2L514.1 143.2L517.0 137.4L520.0 133.1L522.9 130.4L525.9 129.5L528.8 130.4L531.8 133.1L534.7 137.4L537.7 143.2L540.6 150.2L543.6 158.1L546.5 166.7L549.5 175.6L552.4 184.5L555.4 193.1L558.3 201.4L561.3 209.0L564.3 215.9L567.2 222.0L570.2 227.3L573.1 231.8L576.1 235.5L579.0 238.6L582.0 241.0L584.9 243.0L587.9 244.5L590.8 245.6L593.8 246.5L596.7 247.1L599.7 247.6L602.6 247.9L605.6 248.1L608.5 248.3M464.2 248.3L466.6 248.1L469.1 247.9L471.6 247.6L474.0 247.1L476.5 246.4L478.9 245.4L481.4 244.1L483.9 242.4L486.3 240.2L488.8 237.3L491.2 233.8L493.7 229.3L496.1 224.0L498.6 217.7L501.1 210.3L503.5 202.0L506.0 192.7L508.4 182.6L510.9 171.9L513.4 160.9L515.8 149.9L518.3 139.2L520.7 129.3L523.2 120.5L525.7 113.2L528.1 107.8L530.6 104.4L533.0 103.2L535.5 104.4L537.9 107.8L540.4 113.2L542.9 120.5L545.3 129.3L547.8 139.2L550.2 149.9L552.7 160.9L555.2 171.9L557.6 182.6L560.1 192.7L562.5 202.0L565.0 210.3L567.5 217.7L569.9 224.0L572.4 229.3L574.8 233.8L577.3 237.3L579.7 240.2L582.2 242.4L584.7 244.1L587.1 245.4L589.6 246.4L592.0 247.1L594.5 247.6L597.0 247.9L599.4 248.1L601.9 248.3M468.3 248.3L470.5 248.1L472.8 247.9L475.0 247.5L477.3 247.0L479.5 246.3L481.8 245.3L484.0 243.9L486.3 242.1L488.6 239.8L490.8 236.7L493.1 232.9L495.3 228.1L497.6 222.3L499.8 215.4L502.1 207.4L504.3 198.3L506.6 188.1L508.9 177.0L511.1 165.2L513.4 153.0L515.6 140.8L517.9 129.0L520.1 118.0L522.4 108.2L524.7 100.1L526.9 94.0L529.2 90.2L531.4 89.0L533.7 90.2L535.9 94.0L538.2 100.1L540.4 108.2L542.7 118.0L545.0 129.0L547.2 140.8L549.5 153.0L551.7 165.2L554.0 177.0L556.2 188.1L558.5 198.3L560.8 207.4L563.0 215.4L565.3 222.3L567.5 228.1L569.8 232.9L572.0 236.7L574.3 239.8L576.5 242.1L578.8 243.9L581.1 245.3L583.3 246.3L585.6 247.0L587.8 247.5L590.1 247.9L592.3 248.1L594.6 248.3M466.0 248.3L468.5 248.1L471.0 247.9L473.5 247.6L475.9 247.1L478.4 246.4L480.9 245.4L483.4 244.2L485.9 242.5L488.4 240.3L490.9 237.4L493.4 233.9L495.9 229.6L498.4 224.3L500.9 218.1L503.4 210.8L505.9 202.6L508.4 193.5L510.9 183.6L513.4 173.1L515.9 162.2L518.4 151.4L520.9 140.9L523.4 131.2L525.9 122.6L528.4 115.4L530.9 110.1L533.4 106.8L535.9 105.7L538.4 106.8L540.9 110.1L543.4 115.4L545.9 122.6L548.4 131.2L550.9 140.9L553.4 151.4L555.9 162.2L558.4 173.1L560.9 183.6L563.4 193.5L565.8 202.6L568.3 210.8L570.8 218.1L573.3 224.3L575.8 229.6L578.3 233.9L580.8 237.4L583.3 240.3L585.8 242.5L588.3 244.2L590.8 245.4L593.3 246.4L595.8 247.1L598.3 247.6L600.8 247.9L603.3 248.1L605.8 248.3M461.8 248.3L464.4 248.1L467.1 247.9L469.7 247.6L472.4 247.1L475.0 246.4L477.7 245.5L480.3 244.3L483.0 242.7L485.6 240.6L488.3 237.9L490.9 234.5L493.6 230.4L496.2 225.4L498.9 219.5L501.5 212.7L504.2 205.0L506.8 196.4L509.5 187.1L512.1 177.3L514.8 167.2L517.4 157.1L520.1 147.4L522.7 138.3L525.4 130.3L528.0 123.7L530.7 118.7L533.3 115.7L536.0 114.6L538.6 115.7L541.3 118.7L543.9 123.7L546.6 130.3L549.2 138.3L551.9 147.4L554.5 157.1L557.2 167.2L559.8 177.3L562.5 187.1L565.1 196.4L567.8 205.0L570.4 212.7L573.1 219.5L575.7 225.4L578.4 230.4L581.0 234.5L583.7 237.9L586.3 240.6L589.0 242.7L591.6 244.3L594.3 245.5L596.9 246.4L599.6 247.1L602.2 247.6L604.9 247.9L607.5 248.1L610.2 248.3M469.9 248.3L472.2 248.1L474.5 247.9L476.8 247.5L479.0 247.0L481.3 246.3L483.6 245.3L485.9 244.0L488.1 242.2L490.4 239.8L492.7 236.8L495.0 233.0L497.3 228.2L499.5 222.5L501.8 215.7L504.1 207.8L506.4 198.7L508.7 188.6L510.9 177.7L513.2 166.0L515.5 154.0L517.8 141.9L520.1 130.2L522.3 119.3L524.6 109.7L526.9 101.7L529.2 95.7L531.4 92.0L533.7 90.7L536.0 92.0L538.3 95.7L540.6 101.7L542.8 109.7L545.1 119.3L547.4 130.2L549.7 141.9L552.0 154.0L554.2 166.0L556.5 177.7L558.8 188.6L561.1 198.7L563.4 207.8L565.6 215.7L567.9 222.5L570.2 228.2L572.5 233.0L574.7 236.8L577.0 239.8L579.3 242.2L581.6 244.0L583.9 245.3L586.1 246.3L588.4 247.0L590.7 247.5L593.0 247.9L595.3 248.1L597.5 248.3M468.3 248.3L470.7 248.1L473.2 247.9L475.7 247.6L478.1 247.1L480.6 246.4L483.1 245.4L485.6 244.1L488.0 242.4L490.5 240.2L493.0 237.4L495.5 233.8L497.9 229.4L500.4 224.1L502.9 217.8L505.3 210.5L507.8 202.2L510.3 192.9L512.8 182.9L515.2 172.3L517.7 161.4L520.2 150.4L522.6 139.8L525.1 129.9L527.6 121.2L530.1 114.0L532.5 108.6L535.0 105.2L537.5 104.1L539.9 105.2L542.4 108.6L544.9 114.0L547.4 121.2L549.8 129.9L552.3 139.8L554.8 150.4L557.2 161.4L559.7 172.3L562.2 182.9L564.7 192.9L567.1 202.2L569.6 210.5L572.1 217.8L574.6 224.1L577.0 229.4L579.5 233.8L582.0 237.4L584.4 240.2L586.9 242.4L589.4 244.1L591.9 245.4L594.3 246.4L596.8 247.1L599.3 247.6L601.7 247.9L604.2 248.1L606.7 248.3M467.3 248.3L469.5 248.1L471.8 247.9L474.0 247.5L476.2 247.0L478.5 246.3L480.7 245.3L482.9 243.9L485.2 242.1L487.4 239.7L489.6 236.6L491.9 232.7L494.1 227.9L496.3 222.1L498.6 215.1L500.8 207.0L503.0 197.8L505.3 187.5L507.5 176.3L509.7 164.4L512.0 152.1L514.2 139.7L516.4 127.7L518.7 116.6L520.9 106.7L523.1 98.5L525.4 92.3L527.6 88.5L529.8 87.2L532.1 88.5L534.3 92.3L536.5 98.5L538.8 106.7L541.0 116.6L543.2 127.7L545.5 139.7L547.7 152.1L549.9 164.4L552.2 176.3L554.4 187.5L556.6 197.8L558.9 207.0L561.1 215.1L563.3 222.1L565.6 227.9L567.8 232.7L570.0 236.6L572.3 239.7L574.5 242.1L576.7 243.9L579.0 245.3L581.2 246.3L583.5 247.0L585.7 247.5L587.9 247.9L590.2 248.1L592.4 248.3M447.0 248.3L449.9 248.1L452.9 247.9L455.8 247.6L458.7 247.1L461.6 246.5L464.5 245.6L467.5 244.5L470.4 243.0L473.3 241.0L476.2 238.5L479.1 235.4L482.0 231.6L485.0 227.1L487.9 221.7L490.8 215.5L493.7 208.5L496.6 200.8L499.5 192.5L502.5 183.7L505.4 174.7L508.3 165.7L511.2 157.0L514.1 148.9L517.0 141.8L520.0 135.9L522.9 131.6L525.8 128.8L528.7 127.9L531.6 128.8L534.5 131.6L537.5 135.9L540.4 141.8L543.3 148.9L546.2 157.0L549.1 165.7L552.0 174.7L555.0 183.7L557.9 192.5L560.8 200.8L563.7 208.5L566.6 215.5L569.5 221.7L572.5 227.1L575.4 231.6L578.3 235.4L581.2 238.5L584.1 241.0L587.0 243.0L590.0 244.5L592.9 245.6L595.8 246.5L598.7 247.1L601.6 247.6L604.5 247.9L607.5 248.1L610.4 248.3M464.2 248.3L466.7 248.1L469.1 247.9L471.6 247.6L474.1 247.1L476.5 246.4L479.0 245.4L481.5 244.1L483.9 242.4L486.4 240.2L488.9 237.4L491.4 233.8L493.8 229.4L496.3 224.1L498.8 217.8L501.2 210.5L503.7 202.2L506.2 192.9L508.6 182.9L511.1 172.3L513.6 161.3L516.1 150.3L518.5 139.7L521.0 129.8L523.5 121.1L525.9 113.9L528.4 108.5L530.9 105.1L533.4 104.0L535.8 105.1L538.3 108.5L540.8 113.9L543.2 121.1L545.7 129.8L548.2 139.7L550.6 150.3L553.1 161.3L555.6 172.3L558.1 182.9L560.5 192.9L563.0 202.2L565.5 210.5L567.9 217.8L570.4 224.1L572.9 229.4L575.3 233.8L577.8 237.4L580.3 240.2L582.8 242.4L585.2 244.1L587.7 245.4L590.2 246.4L592.6 247.1L595.1 247.6L597.6 247.9L600.0 248.1L602.5 248.3M449.0 248.3L451.9 248.1L454.7 247.9L457.5 247.6L460.3 247.1L463.1 246.5L466.0 245.6L468.8 244.4L471.6 242.9L474.4 240.8L477.2 238.3L480.1 235.1L482.9 231.2L485.7 226.5L488.5 220.9L491.3 214.5L494.2 207.3L497.0 199.3L499.8 190.6L502.6 181.5L505.4 172.1L508.3 162.8L511.1 153.7L513.9 145.3L516.7 137.9L519.5 131.8L522.4 127.2L525.2 124.3L528.0 123.4L530.8 124.3L533.6 127.2L536.5 131.8L539.3 137.9L542.1 145.3L544.9 153.7L547.7 162.8L550.6 172.1L553.4 181.5L556.2 190.6L559.0 199.3L561.8 207.3L564.7 214.5L567.5 220.9L570.3 226.5L573.1 231.2L575.9 235.1L578.8 238.3L581.6 240.8L584.4 242.9L587.2 244.4L590.0 245.6L592.9 246.5L595.7 247.1L598.5 247.6L601.3 247.9L604.1 248.1L607.0 248.3M462.8 248.3L465.1 248.1L467.4 247.9L469.7 247.5L472.0 247.0L474.3 246.3L476.6 245.3L478.9 244.0L481.2 242.2L483.6 239.9L485.9 236.9L488.2 233.1L490.5 228.4L492.8 222.7L495.1 216.0L497.4 208.1L499.7 199.2L502.0 189.3L504.3 178.4L506.6 166.9L508.9 155.1L511.2 143.1L513.5 131.6L515.8 120.9L518.1 111.4L520.4 103.5L522.7 97.6L525.0 93.9L527.3 92.7L529.7 93.9L532.0 97.6L534.3 103.5L536.6 111.4L538.9 120.9L541.2 131.6L543.5 143.1L545.8 155.1L548.1 166.9L550.4 178.4L552.7 189.3L555.0 199.2L557.3 208.1L559.6 216.0L561.9 222.7L564.2 228.4L566.5 233.1L568.8 236.9L571.1 239.9L573.5 242.2L575.8 244.0L578.1 245.3L580.4 246.3L582.7 247.0L585.0 247.5L587.3 247.9L589.6 248.1L591.9 248.3M472.3 248.3L474.7 248.1L477.1 247.9L479.4 247.5L481.8 247.0L484.1 246.3L486.5 245.4L488.8 244.0L491.2 242.3L493.5 240.0L495.9 237.0L498.3 233.3L500.6 228.7L503.0 223.2L505.3 216.6L507.7 208.9L510.0 200.1L512.4 190.4L514.7 179.8L517.1 168.6L519.4 157.0L521.8 145.4L524.2 134.2L526.5 123.7L528.9 114.5L531.2 106.8L533.6 101.0L535.9 97.5L538.3 96.3L540.6 97.5L543.0 101.0L545.4 106.8L547.7 114.5L550.1 123.7L552.4 134.2L554.8 145.4L557.1 157.0L559.5 168.6L561.8 179.8L564.2 190.4L566.5 200.1L568.9 208.9L571.3 216.6L573.6 223.2L576.0 228.7L578.3 233.3L580.7 237.0L583.0 240.0L585.4 242.3L587.7 244.0L590.1 245.4L592.5 246.3L594.8 247.0L597.2 247.5L599.5 247.9L601.9 248.1L604.2 248.3M480.8 248.3L483.0 248.1L485.2 247.9L487.4 247.5L489.5 247.0L491.7 246.3L493.9 245.3L496.1 243.9L498.3 242.0L500.5 239.6L502.7 236.5L504.9 232.5L507.1 227.6L509.3 221.7L511.5 214.6L513.6 206.4L515.8 196.9L518.0 186.4L520.2 175.0L522.4 162.8L524.6 150.2L526.8 137.6L529.0 125.3L531.2 113.9L533.4 103.7L535.6 95.3L537.7 89.0L539.9 85.1L542.1 83.8L544.3 85.1L546.5 89.0L548.7 95.3L550.9 103.7L553.1 113.9L555.3 125.3L557.5 137.6L559.7 150.2L561.9 162.8L564.0 175.0L566.2 186.4L568.4 196.9L570.6 206.4L572.8 214.6L575.0 221.7L577.2 227.6L579.4 232.5L581.6 236.5L583.8 239.6L586.0 242.0L588.1 243.9L590.3 245.3L592.5 246.3L594.7 247.0L596.9 247.5L599.1 247.9L601.3 248.1L603.5 248.3M467.2 248.3L469.4 248.1L471.5 247.9L473.7 247.5L475.9 247.0L478.1 246.3L480.2 245.2L482.4 243.9L484.6 242.0L486.8 239.6L488.9 236.4L491.1 232.5L493.3 227.5L495.5 221.5L497.6 214.4L499.8 206.1L502.0 196.6L504.2 186.0L506.3 174.4L508.5 162.2L510.7 149.5L512.9 136.7L515.0 124.4L517.2 112.8L519.4 102.6L521.6 94.1L523.7 87.8L525.9 83.8L528.1 82.5L530.3 83.8L532.4 87.8L534.6 94.1L536.8 102.6L539.0 112.8L541.1 124.4L543.3 136.7L545.5 149.5L547.7 162.2L549.8 174.4L552.0 186.0L554.2 196.6L556.4 206.1L558.5 214.4L560.7 221.5L562.9 227.5L565.1 232.5L567.2 236.4L569.4 239.6L571.6 242.0L573.8 243.9L575.9 245.2L578.1 246.3L580.3 247.0L582.5 247.5L584.6 247.9L586.8 248.1L589.0 248.3M472.7 248.3L475.0 248.1L477.4 247.9L479.7 247.5L482.1 247.0L484.5 246.3L486.8 245.4L489.2 244.0L491.6 242.3L493.9 240.0L496.3 237.0L498.6 233.3L501.0 228.8L503.4 223.2L505.7 216.6L508.1 209.0L510.5 200.3L512.8 190.6L515.2 180.0L517.5 168.8L519.9 157.3L522.3 145.7L524.6 134.5L527.0 124.1L529.3 114.9L531.7 107.2L534.1 101.5L536.4 97.9L538.8 96.7L541.2 97.9L543.5 101.5L545.9 107.2L548.2 114.9L550.6 124.1L553.0 134.5L555.3 145.7L557.7 157.3L560.1 168.8L562.4 180.0L564.8 190.6L567.1 200.3L569.5 209.0L571.9 216.6L574.2 223.2L576.6 228.8L579.0 233.3L581.3 237.0L583.7 240.0L586.0 242.3L588.4 244.0L590.8 245.4L593.1 246.3L595.5 247.0L597.9 247.5L600.2 247.9L602.6 248.1L604.9 248.3M450.3 248.3L453.3 248.1L456.2 247.9L459.2 247.6L462.1 247.1L465.1 246.5L468.0 245.6L471.0 244.5L473.9 243.0L476.9 241.0L479.8 238.6L482.8 235.5L485.7 231.7L488.7 227.2L491.6 221.9L494.6 215.8L497.5 208.9L500.5 201.3L503.5 193.1L506.4 184.4L509.4 175.5L512.3 166.6L515.3 158.1L518.2 150.1L521.2 143.1L524.1 137.3L527.1 133.0L530.0 130.3L533.0 129.4L535.9 130.3L538.9 133.0L541.8 137.3L544.8 143.1L547.7 150.1L550.7 158.1L553.6 166.6L556.6 175.5L559.5 184.4L562.5 193.1L565.4 201.3L568.4 208.9L571.3 215.8L574.3 221.9L577.2 227.2L580.2 231.7L583.1 235.5L586.1 238.6L589.0 241.0L592.0 243.0L594.9 244.5L597.9 245.6L600.8 246.5L603.8 247.1L606.7 247.6L609.7 247.9L612.6 248.1L615.6 248.3M475.7 248.3L477.9 248.1L480.1 247.9L482.2 247.5L484.4 247.0L486.6 246.3L488.8 245.3L490.9 243.9L493.1 242.0L495.3 239.6L497.5 236.4L499.7 232.5L501.8 227.5L504.0 221.6L506.2 214.4L508.4 206.1L510.5 196.7L512.7 186.1L514.9 174.5L517.1 162.3L519.3 149.6L521.4 136.9L523.6 124.5L525.8 113.0L528.0 102.8L530.1 94.3L532.3 88.0L534.5 84.1L536.7 82.7L538.9 84.1L541.0 88.0L543.2 94.3L545.4 102.8L547.6 113.0L549.7 124.5L551.9 136.9L554.1 149.6L556.3 162.3L558.5 174.5L560.6 186.1L562.8 196.7L565.0 206.1L567.2 214.4L569.3 221.6L571.5 227.5L573.7 232.5L575.9 236.4L578.1 239.6L580.2 242.0L582.4 243.9L584.6 245.3L586.8 246.3L588.9 247.0L591.1 247.5L593.3 247.9L595.5 248.1L597.7 248.3M468.4 248.3L470.9 248.1L473.3 247.9L475.8 247.6L478.2 247.1L480.7 246.4L483.2 245.4L485.6 244.1L488.1 242.4L490.5 240.2L493.0 237.3L495.5 233.8L497.9 229.3L500.4 224.0L502.8 217.7L505.3 210.3L507.8 202.0L510.2 192.7L512.7 182.6L515.1 171.9L517.6 160.9L520.1 149.9L522.5 139.2L525.0 129.3L527.4 120.5L529.9 113.3L532.4 107.8L534.8 104.4L537.3 103.3L539.7 104.4L542.2 107.8L544.7 113.3L547.1 120.5L549.6 129.3L552.0 139.2L554.5 149.9L557.0 160.9L559.4 171.9L561.9 182.6L564.3 192.7L566.8 202.0L569.3 210.3L571.7 217.7L574.2 224.0L576.6 229.3L579.1 233.8L581.6 237.3L584.0 240.2L586.5 242.4L588.9 244.1L591.4 245.4L593.9 246.4L596.3 247.1L598.8 247.6L601.2 247.9L603.7 248.1L606.2 248.3M471.6 248.3L473.8 248.1L476.1 247.9L478.4 247.5L480.6 247.0L482.9 246.3L485.2 245.3L487.4 244.0L489.7 242.1L492.0 239.8L494.2 236.7L496.5 232.9L498.8 228.1L501.0 222.4L503.3 215.5L505.6 207.5L507.8 198.4L510.1 188.3L512.3 177.3L514.6 165.5L516.9 153.4L519.1 141.3L521.4 129.5L523.7 118.5L525.9 108.8L528.2 100.8L530.5 94.7L532.7 91.0L535.0 89.7L537.3 91.0L539.5 94.7L541.8 100.8L544.1 108.8L546.3 118.5L548.6 129.5L550.9 141.3L553.1 153.4L555.4 165.5L557.7 177.3L559.9 188.3L562.2 198.4L564.5 207.5L566.7 215.5L569.0 222.4L571.3 228.1L573.5 232.9L575.8 236.7L578.0 239.8L580.3 242.1L582.6 244.0L584.8 245.3L587.1 246.3L589.4 247.0L591.6 247.5L593.9 247.9L596.2 248.1L598.4 248.3M457.8 248.3L460.3 248.1L462.7 247.9L465.2 247.6L467.6 247.1L470.1 246.4L472.5 245.4L475.0 244.1L477.4 242.4L479.9 240.2L482.3 237.3L484.8 233.7L487.2 229.3L489.7 223.9L492.1 217.6L494.6 210.2L497.0 201.9L499.5 192.6L502.0 182.4L504.4 171.7L506.9 160.7L509.3 149.6L511.8 138.9L514.2 129.0L516.7 120.2L519.1 112.9L521.6 107.4L524.0 104.0L526.5 102.9L528.9 104.0L531.4 107.4L533.8 112.9L536.3 120.2L538.7 129.0L541.2 138.9L543.7 149.6L546.1 160.7L548.6 171.7L551.0 182.4L553.5 192.6L555.9 201.9L558.4 210.2L560.8 217.6L563.3 223.9L565.7 229.3L568.2 233.7L570.6 237.3L573.1 240.2L575.5 242.4L578.0 244.1L580.5 245.4L582.9 246.4L585.4 247.1L587.8 247.6L590.3 247.9L592.7 248.1L595.2 248.3M468.7 248.3L471.2 248.1L473.7 247.9L476.1 247.6L478.6 247.1L481.1 246.4L483.6 245.4L486.0 244.1L488.5 242.4L491.0 240.2L493.5 237.4L495.9 233.8L498.4 229.4L500.9 224.1L503.4 217.8L505.9 210.5L508.3 202.3L510.8 193.0L513.3 183.0L515.8 172.4L518.2 161.5L520.7 150.6L523.2 140.0L525.7 130.2L528.1 121.5L530.6 114.2L533.1 108.8L535.6 105.5L538.0 104.4L540.5 105.5L543.0 108.8L545.5 114.2L548.0 121.5L550.4 130.2L552.9 140.0L555.4 150.6L557.9 161.5L560.3 172.4L562.8 183.0L565.3 193.0L567.8 202.3L570.2 210.5L572.7 217.8L575.2 224.1L577.7 229.4L580.1 233.8L582.6 237.4L585.1 240.2L587.6 242.4L590.1 244.1L592.5 245.4L595.0 246.4L597.5 247.1L600.0 247.6L602.4 247.9L604.9 248.1L607.4 248.3M465.5 248.3L467.8 248.1L470.1 247.9L472.4 247.5L474.7 247.0L477.0 246.3L479.3 245.3L481.6 244.0L483.9 242.2L486.2 239.9L488.5 236.8L490.8 233.1L493.1 228.4L495.4 222.7L497.7 215.9L500.0 208.0L502.3 199.1L504.6 189.1L506.9 178.2L509.2 166.7L511.5 154.8L513.8 142.8L516.1 131.3L518.4 120.5L520.7 110.9L523.0 103.0L525.3 97.1L527.6 93.4L529.9 92.2L532.2 93.4L534.5 97.1L536.8 103.0L539.1 110.9L541.4 120.5L543.7 131.3L546.0 142.8L548.3 154.8L550.6 166.7L552.9 178.2L555.2 189.1L557.5 199.1L559.8 208.0L562.1 215.9L564.4 222.7L566.7 228.4L569.0 233.1L571.3 236.8L573.6 239.9L575.9 242.2L578.2 244.0L580.5 245.3L582.8 246.3L585.1 247.0L587.4 247.5L589.7 247.9L592.0 248.1L594.3 248.3M474.3 248.3L476.6 248.1L478.8 247.9L481.1 247.5L483.4 247.0L485.6 246.3L487.9 245.3L490.2 243.9L492.4 242.1L494.7 239.8L496.9 236.7L499.2 232.9L501.5 228.1L503.7 222.4L506.0 215.5L508.3 207.5L510.5 198.4L512.8 188.2L515.0 177.2L517.3 165.4L519.6 153.3L521.8 141.1L524.1 129.3L526.4 118.3L528.6 108.6L530.9 100.5L533.1 94.5L535.4 90.7L537.7 89.5L539.9 90.7L542.2 94.5L544.5 100.5L546.7 108.6L549.0 118.3L551.2 129.3L553.5 141.1L555.8 153.3L558.0 165.4L560.3 177.2L562.6 188.2L564.8 198.4L567.1 207.5L569.3 215.5L571.6 222.4L573.9 228.1L576.1 232.9L578.4 236.7L580.7 239.8L582.9 242.1L585.2 243.9L587.4 245.3L589.7 246.3L592.0 247.0L594.2 247.5L596.5 247.9L598.8 248.1L601.0 248.3M446.1 248.3L449.2 248.1L452.3 247.9L455.4 247.6L458.5 247.2L461.6 246.5L464.7 245.7L467.8 244.6L470.9 243.1L474.0 241.3L477.1 238.9L480.2 235.9L483.3 232.4L486.4 228.1L489.5 223.0L492.6 217.2L495.7 210.7L498.8 203.4L501.9 195.7L505.0 187.5L508.1 179.1L511.2 170.7L514.3 162.7L517.4 155.2L520.6 148.6L523.7 143.2L526.8 139.1L529.9 136.6L533.0 135.7L536.1 136.6L539.2 139.1L542.3 143.2L545.4 148.6L548.5 155.2L551.6 162.7L554.7 170.7L557.8 179.1L560.9 187.5L564.0 195.7L567.1 203.4L570.2 210.7L573.3 217.2L576.4 223.0L579.5 228.1L582.6 232.4L585.7 235.9L588.8 238.9L591.9 241.3L595.0 243.1L598.1 244.6L601.2 245.7L604.3 246.5L607.4 247.2L610.5 247.6L613.6 247.9L616.7 248.1L619.8 248.3M479.1 248.3L481.4 248.1L483.6 247.9L485.9 247.5L488.1 247.0L490.4 246.3L492.6 245.3L494.9 243.9L497.1 242.1L499.4 239.7L501.6 236.7L503.9 232.8L506.1 228.0L508.4 222.2L510.6 215.4L512.9 207.3L515.1 198.2L517.4 187.9L519.6 176.8L521.9 165.0L524.1 152.8L526.4 140.5L528.6 128.7L530.9 117.6L533.1 107.8L535.4 99.7L537.6 93.6L539.9 89.8L542.1 88.6L544.4 89.8L546.6 93.6L548.9 99.7L551.1 107.8L553.4 117.6L555.6 128.7L557.9 140.5L560.1 152.8L562.4 165.0L564.6 176.8L566.9 187.9L569.1 198.2L571.4 207.3L573.6 215.4L575.9 222.2L578.1 228.0L580.4 232.8L582.6 236.7L584.9 239.7L587.1 242.1L589.4 243.9L591.6 245.3L593.9 246.3L596.1 247.0L598.4 247.5L600.6 247.9L602.9 248.1L605.1 248.3M472.7 248.3L475.1 248.1L477.4 247.9L479.7 247.5L482.0 247.0L484.4 246.3L486.7 245.3L489.0 244.0L491.3 242.2L493.7 239.9L496.0 236.9L498.3 233.2L500.6 228.5L503.0 222.9L505.3 216.2L507.6 208.4L509.9 199.6L512.2 189.7L514.6 179.0L516.9 167.6L519.2 155.8L521.5 144.0L523.9 132.6L526.2 122.0L528.5 112.5L530.8 104.7L533.2 98.9L535.5 95.3L537.8 94.0L540.1 95.3L542.5 98.9L544.8 104.7L547.1 112.5L549.4 122.0L551.8 132.6L554.1 144.0L556.4 155.8L558.7 167.6L561.1 179.0L563.4 189.7L565.7 199.6L568.0 208.4L570.3 216.2L572.7 222.9L575.0 228.5L577.3 233.2L579.6 236.9L582.0 239.9L584.3 242.2L586.6 244.0L588.9 245.3L591.3 246.3L593.6 247.0L595.9 247.5L598.2 247.9L600.6 248.1L602.9 248.3M458.9 248.3L461.6 248.1L464.3 247.9L467.0 247.6L469.7 247.1L472.4 246.4L475.2 245.5L477.9 244.3L480.6 242.7L483.3 240.7L486.0 238.0L488.7 234.7L491.5 230.7L494.2 225.8L496.9 220.1L499.6 213.4L502.3 205.9L505.0 197.6L507.8 188.6L510.5 179.0L513.2 169.2L515.9 159.4L518.6 150.0L521.3 141.2L524.1 133.4L526.8 127.0L529.5 122.2L532.2 119.2L534.9 118.2L537.6 119.2L540.4 122.2L543.1 127.0L545.8 133.4L548.5 141.2L551.2 150.0L553.9 159.4L556.7 169.2L559.4 179.0L562.1 188.6L564.8 197.6L567.5 205.9L570.2 213.4L573.0 220.1L575.7 225.8L578.4 230.7L581.1 234.7L583.8 238.0L586.5 240.7L589.3 242.7L592.0 244.3L594.7 245.5L597.4 246.4L600.1 247.1L602.8 247.6L605.6 247.9L608.3 248.1L611.0 248.3M460.8 248.3L463.1 248.1L465.4 247.9L467.8 247.5L470.1 247.0L472.4 246.3L474.8 245.3L477.1 244.0L479.4 242.2L481.8 239.9L484.1 237.0L486.5 233.2L488.8 228.6L491.1 223.0L493.5 216.3L495.8 208.6L498.1 199.8L500.5 190.0L502.8 179.3L505.1 168.0L507.5 156.3L509.8 144.6L512.2 133.2L514.5 122.6L516.8 113.3L519.2 105.5L521.5 99.7L523.8 96.1L526.2 94.9L528.5 96.1L530.8 99.7L533.2 105.5L535.5 113.3L537.8 122.6L540.2 133.2L542.5 144.6L544.9 156.3L547.2 168.0L549.5 179.3L551.9 190.0L554.2 199.8L556.5 208.6L558.9 216.3L561.2 223.0L563.5 228.6L565.9 233.2L568.2 237.0L570.5 239.9L572.9 242.2L575.2 244.0L577.6 245.3L579.9 246.3L582.2 247.0L584.6 247.5L586.9 247.9L589.2 248.1L591.6 248.3M469.2 248.3L471.6 248.1L474.0 247.9L476.4 247.5L478.8 247.1L481.3 246.4L483.7 245.4L486.1 244.1L488.5 242.3L490.9 240.1L493.3 237.2L495.7 233.5L498.1 229.0L500.5 223.6L502.9 217.1L505.3 209.6L507.7 201.1L510.1 191.6L512.5 181.2L514.9 170.3L517.3 159.0L519.8 147.7L522.2 136.7L524.6 126.5L527.0 117.5L529.4 110.0L531.8 104.4L534.2 101.0L536.6 99.8L539.0 101.0L541.4 104.4L543.8 110.0L546.2 117.5L548.6 126.5L551.0 136.7L553.4 147.7L555.9 159.0L558.3 170.3L560.7 181.2L563.1 191.6L565.5 201.1L567.9 209.6L570.3 217.1L572.7 223.6L575.1 229.0L577.5 233.5L579.9 237.2L582.3 240.1L584.7 242.3L587.1 244.1L589.5 245.4L591.9 246.4L594.4 247.1L596.8 247.5L599.2 247.9L601.6 248.1L604.0 248.3M461.5 248.3L463.8 248.1L466.1 247.9L468.4 247.5L470.7 247.0L473.0 246.3L475.3 245.3L477.6 244.0L479.9 242.2L482.2 239.9L484.5 236.8L486.8 233.1L489.1 228.4L491.4 222.7L493.7 215.9L496.0 208.1L498.3 199.1L500.6 189.1L502.9 178.2L505.2 166.7L507.5 154.8L509.8 142.9L512.1 131.3L514.4 120.5L516.7 111.0L519.0 103.1L521.3 97.1L523.6 93.5L525.9 92.2L528.2 93.5L530.5 97.1L532.8 103.1L535.1 111.0L537.4 120.5L539.7 131.3L542.0 142.9L544.3 154.8L546.6 166.7L548.9 178.2L551.2 189.1L553.5 199.1L555.8 208.1L558.1 215.9L560.4 222.7L562.7 228.4L565.0 233.1L567.3 236.8L569.5 239.9L571.8 242.2L574.1 244.0L576.4 245.3L578.7 246.3L581.0 247.0L583.3 247.5L585.6 247.9L587.9 248.1L590.2 248.3M462.1 248.3L464.6 248.1L467.0 247.9L469.5 247.6L471.9 247.1L474.4 246.4L476.8 245.4L479.2 244.1L481.7 242.4L484.1 240.2L486.6 237.3L489.0 233.7L491.5 229.3L493.9 223.9L496.4 217.5L498.8 210.1L501.2 201.7L503.7 192.4L506.1 182.2L508.6 171.5L511.0 160.4L513.5 149.3L515.9 138.5L518.4 128.5L520.8 119.7L523.2 112.4L525.7 106.9L528.1 103.5L530.6 102.3L533.0 103.5L535.5 106.9L537.9 112.4L540.4 119.7L542.8 128.5L545.3 138.5L547.7 149.3L550.1 160.4L552.6 171.5L555.0 182.2L557.5 192.4L559.9 201.7L562.4 210.1L564.8 217.5L567.3 223.9L569.7 229.3L572.1 233.7L574.6 237.3L577.0 240.2L579.5 242.4L581.9 244.1L584.4 245.4L586.8 246.4L589.3 247.1L591.7 247.6L594.1 247.9L596.6 248.1L599.0 248.3M469.6 248.3L472.0 248.1L474.3 247.9L476.6 247.5L479.0 247.0L481.3 246.3L483.7 245.4L486.0 244.0L488.4 242.3L490.7 240.0L493.1 237.0L495.4 233.3L497.7 228.7L500.1 223.1L502.4 216.4L504.8 208.7L507.1 199.9L509.5 190.2L511.8 179.5L514.2 168.3L516.5 156.6L518.8 144.9L521.2 133.6L523.5 123.1L525.9 113.8L528.2 106.1L530.6 100.3L532.9 96.7L535.3 95.5L537.6 96.7L539.9 100.3L542.3 106.1L544.6 113.8L547.0 123.1L549.3 133.6L551.7 144.9L554.0 156.6L556.4 168.3L558.7 179.5L561.0 190.2L563.4 199.9L565.7 208.7L568.1 216.4L570.4 223.1L572.8 228.7L575.1 233.3L577.5 237.0L579.8 240.0L582.1 242.3L584.5 244.0L586.8 245.4L589.2 246.3L591.5 247.0L593.9 247.5L596.2 247.9L598.5 248.1L600.9 248.3M475.7 248.3L478.1 248.1L480.4 247.9L482.8 247.5L485.2 247.0L487.6 246.3L489.9 245.4L492.3 244.1L494.7 242.3L497.1 240.0L499.4 237.1L501.8 233.4L504.2 228.8L506.5 223.3L508.9 216.7L511.3 209.1L513.7 200.5L516.0 190.8L518.4 180.3L520.8 169.2L523.2 157.7L525.5 146.2L527.9 135.1L530.3 124.7L532.6 115.5L535.0 107.9L537.4 102.2L539.8 98.7L542.1 97.5L544.5 98.7L546.9 102.2L549.2 107.9L551.6 115.5L554.0 124.7L556.4 135.1L558.7 146.2L561.1 157.7L563.5 169.2L565.9 180.3L568.2 190.8L570.6 200.5L573.0 209.1L575.3 216.7L577.7 223.3L580.1 228.8L582.5 233.4L584.8 237.1L587.2 240.0L589.6 242.3L592.0 244.1L594.3 245.4L596.7 246.3L599.1 247.0L601.4 247.5L603.8 247.9L606.2 248.1L608.6 248.3M456.4 248.3L459.1 248.1L461.9 247.9L464.6 247.6L467.4 247.1L470.1 246.5L472.9 245.6L475.6 244.4L478.4 242.8L481.2 240.7L483.9 238.1L486.7 234.9L489.4 230.9L492.2 226.1L494.9 220.4L497.7 213.9L500.4 206.4L503.2 198.2L505.9 189.3L508.7 180.0L511.5 170.3L514.2 160.7L517.0 151.4L519.7 142.7L522.5 135.1L525.2 128.8L528.0 124.1L530.7 121.1L533.5 120.1L536.3 121.1L539.0 124.1L541.8 128.8L544.5 135.1L547.3 142.7L550.0 151.4L552.8 160.7L555.5 170.3L558.3 180.0L561.0 189.3L563.8 198.2L566.6 206.4L569.3 213.9L572.1 220.4L574.8 226.1L577.6 230.9L580.3 234.9L583.1 238.1L585.8 240.7L588.6 242.8L591.3 244.4L594.1 245.6L596.9 246.5L599.6 247.1L602.4 247.6L605.1 247.9L607.9 248.1L610.6 248.3M473.1 248.3L475.3 248.1L477.5 247.9L479.7 247.5L481.9 247.0L484.1 246.3L486.3 245.3L488.5 243.9L490.7 242.0L492.9 239.6L495.0 236.5L497.2 232.5L499.4 227.7L501.6 221.7L503.8 214.6L506.0 206.4L508.2 197.0L510.4 186.5L512.6 175.0L514.8 162.9L517.0 150.3L519.2 137.7L521.4 125.4L523.6 114.0L525.7 103.9L527.9 95.5L530.1 89.2L532.3 85.3L534.5 84.0L536.7 85.3L538.9 89.2L541.1 95.5L543.3 103.9L545.5 114.0L547.7 125.4L549.9 137.7L552.1 150.3L554.3 162.9L556.4 175.0L558.6 186.5L560.8 197.0L563.0 206.4L565.2 214.6L567.4 221.7L569.6 227.7L571.8 232.5L574.0 236.5L576.2 239.6L578.4 242.0L580.6 243.9L582.8 245.3L585.0 246.3L587.1 247.0L589.3 247.5L591.5 247.9L593.7 248.1L595.9 248.3M457.1 248.3L459.9 248.1L462.8 247.9L465.7 247.6L468.6 247.1L471.5 246.5L474.4 245.6L477.2 244.5L480.1 242.9L483.0 240.9L485.9 238.4L488.8 235.3L491.7 231.5L494.5 226.9L497.4 221.4L500.3 215.2L503.2 208.1L506.1 200.3L509.0 191.8L511.8 182.9L514.7 173.8L517.6 164.7L520.5 155.9L523.4 147.7L526.2 140.5L529.1 134.5L532.0 130.0L534.9 127.3L537.8 126.4L540.7 127.3L543.5 130.0L546.4 134.5L549.3 140.5L552.2 147.7L555.1 155.9L558.0 164.7L560.8 173.8L563.7 182.9L566.6 191.8L569.5 200.3L572.4 208.1L575.3 215.2L578.1 221.4L581.0 226.9L583.9 231.5L586.8 235.3L589.7 238.4L592.5 240.9L595.4 242.9L598.3 244.5L601.2 245.6L604.1 246.5L607.0 247.1L609.8 247.6L612.7 247.9L615.6 248.1L618.5 248.3M463.7 248.3L466.0 248.1L468.3 247.9L470.5 247.5L472.8 247.0L475.0 246.3L477.3 245.3L479.5 243.9L481.8 242.1L484.1 239.8L486.3 236.7L488.6 232.9L490.8 228.1L493.1 222.3L495.3 215.4L497.6 207.4L499.9 198.3L502.1 188.1L504.4 177.0L506.6 165.2L508.9 153.1L511.1 140.9L513.4 129.0L515.7 118.0L517.9 108.3L520.2 100.2L522.4 94.1L524.7 90.3L526.9 89.1L529.2 90.3L531.5 94.1L533.7 100.2L536.0 108.3L538.2 118.0L540.5 129.0L542.7 140.9L545.0 153.1L547.3 165.2L549.5 177.0L551.8 188.1L554.0 198.3L556.3 207.4L558.5 215.4L560.8 222.3L563.1 228.1L565.3 232.9L567.6 236.7L569.8 239.8L572.1 242.1L574.3 243.9L576.6 245.3L578.9 246.3L581.1 247.0L583.4 247.5L585.6 247.9L587.9 248.1L590.1 248.3M445.7 248.3L448.7 248.1L451.7 247.9L454.7 247.6L457.7 247.1L460.7 246.5L463.7 245.7L466.7 244.5L469.7 243.0L472.7 241.1L475.7 238.7L478.7 235.7L481.8 232.0L484.8 227.5L487.8 222.3L490.8 216.4L493.8 209.6L496.8 202.1L499.8 194.1L502.8 185.6L505.8 176.9L508.8 168.2L511.8 159.8L514.8 152.1L517.8 145.2L520.8 139.5L523.8 135.3L526.8 132.7L529.8 131.8L532.9 132.7L535.9 135.3L538.9 139.5L541.9 145.2L544.9 152.1L547.9 159.8L550.9 168.2L553.9 176.9L556.9 185.6L559.9 194.1L562.9 202.1L565.9 209.6L568.9 216.4L571.9 222.3L574.9 227.5L577.9 232.0L580.9 235.7L584.0 238.7L587.0 241.1L590.0 243.0L593.0 244.5L596.0 245.7L599.0 246.5L602.0 247.1L605.0 247.6L608.0 247.9L611.0 248.1L614.0 248.3M472.4 248.3L474.6 248.1L476.9 247.9L479.1 247.5L481.3 247.0L483.5 246.3L485.8 245.3L488.0 243.9L490.2 242.1L492.5 239.7L494.7 236.6L496.9 232.7L499.1 227.9L501.4 222.1L503.6 215.1L505.8 207.0L508.1 197.7L510.3 187.4L512.5 176.2L514.7 164.2L517.0 151.9L519.2 139.5L521.4 127.5L523.7 116.3L525.9 106.4L528.1 98.2L530.4 92.0L532.6 88.2L534.8 86.9L537.0 88.2L539.3 92.0L541.5 98.2L543.7 106.4L546.0 116.3L548.2 127.5L550.4 139.5L552.6 151.9L554.9 164.2L557.1 176.2L559.3 187.4L561.6 197.7L563.8 207.0L566.0 215.1L568.2 222.1L570.5 227.9L572.7 232.7L574.9 236.6L577.2 239.7L579.4 242.1L581.6 243.9L583.9 245.3L586.1 246.3L588.3 247.0L590.5 247.5L592.8 247.9L595.0 248.1L597.2 248.3M443.8 248.3L446.9 248.1L449.9 247.9L453.0 247.6L456.1 247.2L459.2 246.5L462.2 245.7L465.3 244.6L468.4 243.1L471.5 241.2L474.6 238.8L477.6 235.9L480.7 232.3L483.8 227.9L486.9 222.8L489.9 217.0L493.0 210.4L496.1 203.1L499.2 195.3L502.2 187.0L505.3 178.5L508.4 170.1L511.5 161.9L514.6 154.4L517.6 147.8L520.7 142.3L523.8 138.2L526.9 135.6L529.9 134.8L533.0 135.6L536.1 138.2L539.2 142.3L542.2 147.8L545.3 154.4L548.4 161.9L551.5 170.1L554.6 178.5L557.6 187.0L560.7 195.3L563.8 203.1L566.9 210.4L569.9 217.0L573.0 222.8L576.1 227.9L579.2 232.3L582.2 235.9L585.3 238.8L588.4 241.2L591.5 243.1L594.6 244.6L597.6 245.7L600.7 246.5L603.8 247.2L606.9 247.6L609.9 247.9L613.0 248.1L616.1 248.3M457.2 248.3L459.7 248.1L462.1 247.9L464.6 247.6L467.1 247.1L469.5 246.4L472.0 245.4L474.5 244.1L476.9 242.4L479.4 240.2L481.9 237.4L484.4 233.8L486.8 229.4L489.3 224.1L491.8 217.8L494.2 210.4L496.7 202.1L499.2 192.9L501.6 182.8L504.1 172.2L506.6 161.3L509.0 150.3L511.5 139.7L514.0 129.8L516.5 121.0L518.9 113.8L521.4 108.4L523.9 105.0L526.3 103.9L528.8 105.0L531.3 108.4L533.7 113.8L536.2 121.0L538.7 129.8L541.1 139.7L543.6 150.3L546.1 161.3L548.6 172.2L551.0 182.8L553.5 192.9L556.0 202.1L558.4 210.4L560.9 217.8L563.4 224.1L565.8 229.4L568.3 233.8L570.8 237.4L573.2 240.2L575.7 242.4L578.2 244.1L580.6 245.4L583.1 246.4L585.6 247.1L588.1 247.6L590.5 247.9L593.0 248.1L595.5 248.3M463.0 248.3L465.4 248.1L467.8 247.9L470.2 247.5L472.6 247.0L475.0 246.4L477.5 245.4L479.9 244.1L482.3 242.3L484.7 240.1L487.1 237.2L489.5 233.5L491.9 229.0L494.3 223.6L496.7 217.1L499.1 209.6L501.5 201.0L503.9 191.5L506.3 181.2L508.7 170.2L511.1 158.9L513.5 147.6L515.9 136.6L518.3 126.4L520.7 117.4L523.1 109.9L525.5 104.3L527.9 100.8L530.3 99.6L532.7 100.8L535.1 104.3L537.6 109.9L540.0 117.4L542.4 126.4L544.8 136.6L547.2 147.6L549.6 158.9L552.0 170.2L554.4 181.2L556.8 191.5L559.2 201.0L561.6 209.6L564.0 217.1L566.4 223.6L568.8 229.0L571.2 233.5L573.6 237.2L576.0 240.1L578.4 242.3L580.8 244.1L583.2 245.4L585.6 246.4L588.0 247.0L590.4 247.5L592.8 247.9L595.2 248.1L597.7 248.3M453.8 248.3L456.6 248.1L459.3 247.9L462.1 247.6L464.9 247.1L467.6 246.5L470.4 245.6L473.1 244.4L475.9 242.8L478.7 240.7L481.4 238.1L484.2 234.9L487.0 230.9L489.7 226.1L492.5 220.5L495.2 213.9L498.0 206.5L500.8 198.3L503.5 189.5L506.3 180.1L509.0 170.5L511.8 160.9L514.6 151.6L517.3 143.0L520.1 135.4L522.8 129.1L525.6 124.4L528.4 121.4L531.1 120.4L533.9 121.4L536.6 124.4L539.4 129.1L542.2 135.4L544.9 143.0L547.7 151.6L550.4 160.9L553.2 170.5L556.0 180.1L558.7 189.5L561.5 198.3L564.3 206.5L567.0 213.9L569.8 220.5L572.5 226.1L575.3 230.9L578.1 234.9L580.8 238.1L583.6 240.7L586.3 242.8L589.1 244.4L591.9 245.6L594.6 246.5L597.4 247.1L600.1 247.6L602.9 247.9L605.7 248.1L608.4 248.3M450.6 248.3L453.6 248.1L456.5 247.9L459.4 247.6L462.3 247.1L465.3 246.5L468.2 245.6L471.1 244.5L474.0 243.0L477.0 241.0L479.9 238.5L482.8 235.4L485.7 231.6L488.6 227.1L491.6 221.7L494.5 215.6L497.4 208.6L500.3 200.9L503.3 192.6L506.2 183.8L509.1 174.8L512.0 165.9L515.0 157.2L517.9 149.2L520.8 142.1L523.7 136.2L526.7 131.9L529.6 129.1L532.5 128.2L535.4 129.1L538.4 131.9L541.3 136.2L544.2 142.1L547.1 149.2L550.0 157.2L553.0 165.9L555.9 174.8L558.8 183.8L561.7 192.6L564.7 200.9L567.6 208.6L570.5 215.6L573.4 221.7L576.4 227.1L579.3 231.6L582.2 235.4L585.1 238.5L588.1 241.0L591.0 243.0L593.9 244.5L596.8 245.6L599.8 246.5L602.7 247.1L605.6 247.6L608.5 247.9L611.4 248.1L614.4 248.3M456.9 248.3L459.8 248.1L462.7 247.9L465.6 247.6L468.4 247.1L471.3 246.5L474.2 245.6L477.1 244.5L480.0 242.9L482.8 240.9L485.7 238.4L488.6 235.3L491.5 231.4L494.3 226.8L497.2 221.4L500.1 215.1L503.0 208.1L505.9 200.2L508.7 191.8L511.6 182.9L514.5 173.7L517.4 164.5L520.3 155.7L523.1 147.5L526.0 140.3L528.9 134.3L531.8 129.9L534.6 127.1L537.5 126.2L540.4 127.1L543.3 129.9L546.2 134.3L549.0 140.3L551.9 147.5L554.8 155.7L557.7 164.5L560.6 173.7L563.4 182.9L566.3 191.8L569.2 200.2L572.1 208.1L574.9 215.1L577.8 221.4L580.7 226.8L583.6 231.4L586.5 235.3L589.3 238.4L592.2 240.9L595.1 242.9L598.0 244.5L600.9 245.6L603.7 246.5L606.6 247.1L609.5 247.6L612.4 247.9L615.2 248.1L618.1 248.3M461.4 248.3L463.8 248.1L466.1 247.9L468.5 247.5L470.8 247.0L473.2 246.3L475.6 245.4L477.9 244.0L480.3 242.3L482.7 240.0L485.0 237.0L487.4 233.3L489.7 228.8L492.1 223.2L494.5 216.6L496.8 209.0L499.2 200.3L501.6 190.6L503.9 180.0L506.3 168.9L508.6 157.3L511.0 145.8L513.4 134.6L515.7 124.1L518.1 114.9L520.5 107.2L522.8 101.5L525.2 98.0L527.5 96.8L529.9 98.0L532.3 101.5L534.6 107.2L537.0 114.9L539.4 124.1L541.7 134.6L544.1 145.8L546.4 157.3L548.8 168.9L551.2 180.0L553.5 190.6L555.9 200.3L558.3 209.0L560.6 216.6L563.0 223.2L565.3 228.8L567.7 233.3L570.1 237.0L572.4 240.0L574.8 242.3L577.2 244.0L579.5 245.4L581.9 246.3L584.2 247.0L586.6 247.5L589.0 247.9L591.3 248.1L593.7 248.3M472.0 248.3L474.4 248.1L476.7 247.9L479.1 247.5L481.5 247.0L483.9 246.3L486.2 245.4L488.6 244.1L491.0 242.3L493.4 240.0L495.7 237.1L498.1 233.4L500.5 228.8L502.9 223.3L505.2 216.8L507.6 209.2L510.0 200.5L512.3 190.8L514.7 180.4L517.1 169.2L519.5 157.8L521.8 146.3L524.2 135.1L526.6 124.8L529.0 115.6L531.3 108.0L533.7 102.3L536.1 98.8L538.5 97.6L540.8 98.8L543.2 102.3L545.6 108.0L548.0 115.6L550.3 124.8L552.7 135.1L555.1 146.3L557.5 157.8L559.8 169.2L562.2 180.4L564.6 190.8L567.0 200.5L569.3 209.2L571.7 216.8L574.1 223.3L576.5 228.8L578.8 233.4L581.2 237.1L583.6 240.0L585.9 242.3L588.3 244.1L590.7 245.4L593.1 246.3L595.4 247.0L597.8 247.5L600.2 247.9L602.6 248.1L604.9 248.3M464.8 248.3L467.1 248.1L469.4 247.9L471.7 247.5L474.0 247.0L476.3 246.3L478.6 245.3L480.9 244.0L483.2 242.2L485.5 239.9L487.8 236.9L490.1 233.1L492.4 228.4L494.7 222.8L497.1 216.0L499.4 208.2L501.7 199.3L504.0 189.3L506.3 178.5L508.6 167.0L510.9 155.1L513.2 143.3L515.5 131.7L517.8 121.0L520.1 111.5L522.4 103.6L524.7 97.7L527.0 94.1L529.4 92.8L531.7 94.1L534.0 97.7L536.3 103.6L538.6 111.5L540.9 121.0L543.2 131.7L545.5 143.3L547.8 155.1L550.1 167.0L552.4 178.5L554.7 189.3L557.0 199.3L559.4 208.2L561.7 216.0L564.0 222.8L566.3 228.4L568.6 233.1L570.9 236.9L573.2 239.9L575.5 242.2L577.8 244.0L580.1 245.3L582.4 246.3L584.7 247.0L587.0 247.5L589.3 247.9L591.7 248.1L594.0 248.3M468.5 248.3L471.1 248.1L473.6 247.9L476.2 247.6L478.7 247.1L481.3 246.4L483.8 245.5L486.4 244.2L488.9 242.5L491.5 240.4L494.0 237.6L496.6 234.1L499.1 229.8L501.7 224.7L504.2 218.6L506.8 211.5L509.3 203.4L511.9 194.5L514.4 184.8L517.0 174.6L519.5 164.0L522.1 153.5L524.6 143.3L527.2 133.8L529.7 125.4L532.3 118.4L534.8 113.2L537.4 110.0L539.9 108.9L542.5 110.0L545.0 113.2L547.6 118.4L550.1 125.4L552.7 133.8L555.2 143.3L557.8 153.5L560.3 164.0L562.9 174.6L565.4 184.8L568.0 194.5L570.5 203.4L573.1 211.5L575.6 218.6L578.2 224.7L580.7 229.8L583.3 234.1L585.8 237.6L588.4 240.4L590.9 242.5L593.5 244.2L596.0 245.5L598.6 246.4L601.1 247.1L603.7 247.6L606.2 247.9L608.8 248.1L611.3 248.3M472.0 248.3L474.3 248.1L476.6 247.9L478.9 247.5L481.2 247.0L483.5 246.3L485.8 245.3L488.1 244.0L490.4 242.2L492.7 239.8L495.0 236.8L497.3 233.0L499.6 228.4L501.9 222.7L504.2 215.9L506.5 208.0L508.8 199.1L511.1 189.1L513.4 178.2L515.7 166.7L518.0 154.7L520.3 142.8L522.6 131.2L524.9 120.4L527.2 110.9L529.5 102.9L531.8 97.0L534.1 93.3L536.4 92.1L538.7 93.3L541.0 97.0L543.3 102.9L545.6 110.9L547.9 120.4L550.1 131.2L552.4 142.8L554.7 154.7L557.0 166.7L559.3 178.2L561.6 189.1L563.9 199.1L566.2 208.0L568.5 215.9L570.8 222.7L573.1 228.4L575.4 233.0L577.7 236.8L580.0 239.8L582.3 242.2L584.6 244.0L586.9 245.3L589.2 246.3L591.5 247.0L593.8 247.5L596.1 247.9L598.4 248.1L600.7 248.3M471.0 248.3L473.5 248.1L475.9 247.9L478.3 247.6L480.7 247.1L483.1 246.4L485.6 245.4L488.0 244.1L490.4 242.4L492.8 240.1L495.2 237.2L497.6 233.6L500.1 229.1L502.5 223.7L504.9 217.3L507.3 209.8L509.7 201.3L512.2 191.8L514.6 181.6L517.0 170.7L519.4 159.5L521.8 148.2L524.3 137.4L526.7 127.2L529.1 118.3L531.5 110.8L533.9 105.3L536.4 101.8L538.8 100.7L541.2 101.8L543.6 105.3L546.0 110.8L548.5 118.3L550.9 127.2L553.3 137.4L555.7 148.2L558.1 159.5L560.6 170.7L563.0 181.6L565.4 191.8L567.8 201.3L570.2 209.8L572.7 217.3L575.1 223.7L577.5 229.1L579.9 233.6L582.3 237.2L584.8 240.1L587.2 242.4L589.6 244.1L592.0 245.4L594.4 246.4L596.9 247.1L599.3 247.6L601.7 247.9L604.1 248.1L606.5 248.3M475.4 248.3L477.8 248.1L480.1 247.9L482.5 247.5L484.9 247.0L487.3 246.3L489.7 245.4L492.1 244.1L494.5 242.3L496.8 240.0L499.2 237.1L501.6 233.4L504.0 228.9L506.4 223.4L508.8 216.9L511.1 209.3L513.5 200.7L515.9 191.1L518.3 180.6L520.7 169.6L523.1 158.1L525.4 146.7L527.8 135.6L530.2 125.3L532.6 116.2L535.0 108.6L537.4 103.0L539.7 99.4L542.1 98.3L544.5 99.4L546.9 103.0L549.3 108.6L551.7 116.2L554.1 125.3L556.4 135.6L558.8 146.7L561.2 158.1L563.6 169.6L566.0 180.6L568.4 191.1L570.7 200.7L573.1 209.3L575.5 216.9L577.9 223.4L580.3 228.9L582.7 233.4L585.0 237.1L587.4 240.0L589.8 242.3L592.2 244.1L594.6 245.4L597.0 246.3L599.3 247.0L601.7 247.5L604.1 247.9L606.5 248.1L608.9 248.3M476.7 248.3L478.9 248.1L481.1 247.9L483.3 247.5L485.6 247.0L487.8 246.3L490.0 245.3L492.2 243.9L494.4 242.1L496.6 239.7L498.8 236.6L501.0 232.6L503.3 227.8L505.5 221.9L507.7 214.9L509.9 206.7L512.1 197.4L514.3 187.0L516.5 175.6L518.7 163.6L520.9 151.1L523.2 138.6L525.4 126.5L527.6 115.2L529.8 105.2L532.0 96.9L534.2 90.7L536.4 86.8L538.6 85.5L540.9 86.8L543.1 90.7L545.3 96.9L547.5 105.2L549.7 115.2L551.9 126.5L554.1 138.6L556.3 151.1L558.6 163.6L560.8 175.6L563.0 187.0L565.2 197.4L567.4 206.7L569.6 214.9L571.8 221.9L574.0 227.8L576.3 232.6L578.5 236.6L580.7 239.7L582.9 242.1L585.1 243.9L587.3 245.3L589.5 246.3L591.7 247.0L593.9 247.5L596.2 247.9L598.4 248.1L600.6 248.3M459.6 248.3L462.5 248.1L465.3 247.9L468.2 247.6L471.0 247.1L473.9 246.5L476.7 245.6L479.6 244.4L482.4 242.9L485.3 240.9L488.1 238.4L491.0 235.2L493.8 231.3L496.7 226.7L499.5 221.2L502.4 214.9L505.2 207.7L508.1 199.8L510.9 191.3L513.8 182.2L516.6 173.0L519.5 163.7L522.3 154.8L525.2 146.5L528.1 139.2L530.9 133.2L533.8 128.6L536.6 125.8L539.5 124.9L542.3 125.8L545.2 128.6L548.0 133.2L550.9 139.2L553.7 146.5L556.6 154.8L559.4 163.7L562.3 173.0L565.1 182.2L568.0 191.3L570.8 199.8L573.7 207.7L576.5 214.9L579.4 221.2L582.2 226.7L585.1 231.3L587.9 235.2L590.8 238.4L593.6 240.9L596.5 242.9L599.3 244.4L602.2 245.6L605.0 246.5L607.9 247.1L610.7 247.6L613.6 247.9L616.4 248.1L619.3 248.3M453.9 248.3L456.7 248.1L459.4 247.9L462.1 247.6L464.8 247.1L467.6 246.4L470.3 245.5L473.0 244.3L475.7 242.7L478.4 240.7L481.2 238.0L483.9 234.8L486.6 230.7L489.3 225.9L492.1 220.1L494.8 213.5L497.5 206.0L500.2 197.7L502.9 188.7L505.7 179.2L508.4 169.4L511.1 159.6L513.8 150.2L516.5 141.4L519.3 133.6L522.0 127.2L524.7 122.4L527.4 119.5L530.2 118.5L532.9 119.5L535.6 122.4L538.3 127.2L541.0 133.6L543.8 141.4L546.5 150.2L549.2 159.6L551.9 169.4L554.7 179.2L557.4 188.7L560.1 197.7L562.8 206.0L565.5 213.5L568.3 220.1L571.0 225.9L573.7 230.7L576.4 234.8L579.2 238.0L581.9 240.7L584.6 242.7L587.3 244.3L590.0 245.5L592.8 246.4L595.5 247.1L598.2 247.6L600.9 247.9L603.7 248.1L606.4 248.3M472.9 248.3L475.2 248.1L477.4 247.9L479.7 247.5L481.9 247.0L484.2 246.3L486.4 245.3L488.7 243.9L491.0 242.1L493.2 239.8L495.5 236.7L497.7 232.9L500.0 228.1L502.3 222.3L504.5 215.4L506.8 207.4L509.0 198.3L511.3 188.1L513.5 177.0L515.8 165.3L518.1 153.1L520.3 140.9L522.6 129.1L524.8 118.1L527.1 108.3L529.4 100.2L531.6 94.1L533.9 90.4L536.1 89.1L538.4 90.4L540.6 94.1L542.9 100.2L545.2 108.3L547.4 118.1L549.7 129.1L551.9 140.9L554.2 153.1L556.4 165.3L558.7 177.0L561.0 188.1L563.2 198.3L565.5 207.4L567.7 215.4L570.0 222.3L572.3 228.1L574.5 232.9L576.8 236.7L579.0 239.8L581.3 242.1L583.5 243.9L585.8 245.3L588.1 246.3L590.3 247.0L592.6 247.5L594.8 247.9L597.1 248.1L599.3 248.3M469.5 248.3L471.7 248.1L474.0 247.9L476.2 247.5L478.5 247.0L480.7 246.3L482.9 245.3L485.2 243.9L487.4 242.1L489.7 239.7L491.9 236.7L494.2 232.8L496.4 228.0L498.7 222.2L500.9 215.3L503.1 207.2L505.4 198.0L507.6 187.8L509.9 176.6L512.1 164.8L514.4 152.6L516.6 140.3L518.9 128.4L521.1 117.3L523.4 107.4L525.6 99.3L527.8 93.2L530.1 89.4L532.3 88.1L534.6 89.4L536.8 93.2L539.1 99.3L541.3 107.4L543.6 117.3L545.8 128.4L548.1 140.3L550.3 152.6L552.5 164.8L554.8 176.6L557.0 187.8L559.3 198.0L561.5 207.2L563.8 215.3L566.0 222.2L568.3 228.0L570.5 232.8L572.7 236.7L575.0 239.7L577.2 242.1L579.5 243.9L581.7 245.3L584.0 246.3L586.2 247.0L588.5 247.5L590.7 247.9L593.0 248.1L595.2 248.3M466.1 248.3L468.5 248.1L470.9 247.9L473.4 247.5L475.8 247.1L478.2 246.4L480.6 245.4L483.0 244.1L485.4 242.4L487.8 240.1L490.2 237.2L492.6 233.5L495.0 229.0L497.4 223.6L499.8 217.1L502.3 209.6L504.7 201.1L507.1 191.6L509.5 181.3L511.9 170.3L514.3 159.0L516.7 147.7L519.1 136.8L521.5 126.6L523.9 117.6L526.3 110.1L528.7 104.5L531.2 101.1L533.6 99.9L536.0 101.1L538.4 104.5L540.8 110.1L543.2 117.6L545.6 126.6L548.0 136.8L550.4 147.7L552.8 159.0L555.2 170.3L557.6 181.3L560.0 191.6L562.5 201.1L564.9 209.6L567.3 217.1L569.7 223.6L572.1 229.0L574.5 233.5L576.9 237.2L579.3 240.1L581.7 242.4L584.1 244.1L586.5 245.4L588.9 246.4L591.4 247.1L593.8 247.5L596.2 247.9L598.6 248.1L601.0 248.3M473.3 248.3L475.4 248.1L477.6 247.9L479.8 247.5L481.9 247.0L484.1 246.3L486.3 245.2L488.4 243.9L490.6 242.0L492.8 239.5L494.9 236.4L497.1 232.4L499.3 227.5L501.4 221.5L503.6 214.3L505.8 205.9L507.9 196.4L510.1 185.8L512.3 174.1L514.4 161.8L516.6 149.0L518.8 136.2L520.9 123.8L523.1 112.2L525.3 101.9L527.4 93.4L529.6 87.0L531.8 83.1L533.9 81.7L536.1 83.1L538.3 87.0L540.4 93.4L542.6 101.9L544.7 112.2L546.9 123.8L549.1 136.2L551.2 149.0L553.4 161.8L555.6 174.1L557.7 185.8L559.9 196.4L562.1 205.9L564.2 214.3L566.4 221.5L568.6 227.5L570.7 232.4L572.9 236.4L575.1 239.5L577.2 242.0L579.4 243.9L581.6 245.2L583.7 246.3L585.9 247.0L588.1 247.5L590.2 247.9L592.4 248.1L594.6 248.3M462.0 248.3L464.3 248.1L466.7 247.9L469.0 247.5L471.4 247.0L473.7 246.3L476.1 245.4L478.4 244.0L480.8 242.3L483.2 240.0L485.5 237.0L487.9 233.3L490.2 228.7L492.6 223.1L494.9 216.5L497.3 208.9L499.6 200.1L502.0 190.4L504.3 179.8L506.7 168.6L509.0 157.0L511.4 145.4L513.8 134.1L516.1 123.7L518.5 114.4L520.8 106.7L523.2 101.0L525.5 97.4L527.9 96.2L530.2 97.4L532.6 101.0L534.9 106.7L537.3 114.4L539.7 123.7L542.0 134.1L544.4 145.4L546.7 157.0L549.1 168.6L551.4 179.8L553.8 190.4L556.1 200.1L558.5 208.9L560.8 216.5L563.2 223.1L565.5 228.7L567.9 233.3L570.3 237.0L572.6 240.0L575.0 242.3L577.3 244.0L579.7 245.4L582.0 246.3L584.4 247.0L586.7 247.5L589.1 247.9L591.4 248.1L593.8 248.3M460.8 248.3L463.2 248.1L465.7 247.9L468.1 247.6L470.6 247.1L473.0 246.4L475.5 245.4L477.9 244.1L480.4 242.4L482.8 240.2L485.3 237.3L487.7 233.7L490.2 229.3L492.6 223.9L495.1 217.6L497.5 210.2L500.0 201.8L502.4 192.4L504.9 182.3L507.3 171.6L509.7 160.5L512.2 149.4L514.6 138.7L517.1 128.7L519.5 119.9L522.0 112.5L524.4 107.1L526.9 103.7L529.3 102.5L531.8 103.7L534.2 107.1L536.7 112.5L539.1 119.9L541.6 128.7L544.0 138.7L546.5 149.4L548.9 160.5L551.4 171.6L553.8 182.3L556.3 192.4L558.7 201.8L561.2 210.2L563.6 217.6L566.0 223.9L568.5 229.3L570.9 233.7L573.4 237.3L575.8 240.2L578.3 242.4L580.7 244.1L583.2 245.4L585.6 246.4L588.1 247.1L590.5 247.6L593.0 247.9L595.4 248.1L597.9 248.3M465.0 248.3L467.5 248.1L470.1 247.9L472.6 247.6L475.2 247.1L477.7 246.4L480.2 245.5L482.8 244.2L485.3 242.5L487.9 240.3L490.4 237.6L492.9 234.1L495.5 229.8L498.0 224.6L500.6 218.5L503.1 211.4L505.6 203.3L508.2 194.3L510.7 184.6L513.2 174.3L515.8 163.7L518.3 153.1L520.9 142.8L523.4 133.2L525.9 124.8L528.5 117.8L531.0 112.6L533.6 109.3L536.1 108.2L538.6 109.3L541.2 112.6L543.7 117.8L546.3 124.8L548.8 133.2L551.3 142.8L553.9 153.1L556.4 163.7L559.0 174.3L561.5 184.6L564.0 194.3L566.6 203.3L569.1 211.4L571.6 218.5L574.2 224.6L576.7 229.8L579.3 234.1L581.8 237.6L584.3 240.3L586.9 242.5L589.4 244.2L592.0 245.5L594.5 246.4L597.0 247.1L599.6 247.6L602.1 247.9L604.7 248.1L607.2 248.3M482.7 248.3L484.8 248.1L486.9 247.9L489.0 247.5L491.2 247.0L493.3 246.2L495.4 245.2L497.5 243.8L499.7 241.9L501.8 239.4L503.9 236.2L506.0 232.2L508.1 227.2L510.3 221.0L512.4 213.7L514.5 205.2L516.6 195.5L518.8 184.6L520.9 172.8L523.0 160.1L525.1 147.1L527.3 134.0L529.4 121.3L531.5 109.4L533.6 98.9L535.8 90.1L537.9 83.6L540.0 79.5L542.1 78.2L544.3 79.5L546.4 83.6L548.5 90.1L550.6 98.9L552.8 109.4L554.9 121.3L557.0 134.0L559.1 147.1L561.2 160.1L563.4 172.8L565.5 184.6L567.6 195.5L569.7 205.2L571.9 213.7L574.0 221.0L576.1 227.2L578.2 232.2L580.4 236.2L582.5 239.4L584.6 241.9L586.7 243.8L588.9 245.2L591.0 246.2L593.1 247.0L595.2 247.5L597.4 247.9L599.5 248.1L601.6 248.3M452.6 248.3L455.7 248.1L458.7 247.9L461.7 247.6L464.7 247.1L467.7 246.5L470.7 245.7L473.7 244.5L476.7 243.1L479.7 241.1L482.7 238.7L485.8 235.7L488.8 232.0L491.8 227.6L494.8 222.4L497.8 216.4L500.8 209.6L503.8 202.2L506.8 194.1L509.8 185.7L512.9 177.0L515.9 168.3L518.9 160.0L521.9 152.2L524.9 145.4L527.9 139.7L530.9 135.5L533.9 132.9L536.9 132.0L539.9 132.9L543.0 135.5L546.0 139.7L549.0 145.4L552.0 152.2L555.0 160.0L558.0 168.3L561.0 177.0L564.0 185.7L567.0 194.1L570.0 202.2L573.1 209.6L576.1 216.4L579.1 222.4L582.1 227.6L585.1 232.0L588.1 235.7L591.1 238.7L594.1 241.1L597.1 243.1L600.2 244.5L603.2 245.7L606.2 246.5L609.2 247.1L612.2 247.6L615.2 247.9L618.2 248.1L621.2 248.3M467.8 248.3L470.3 248.1L472.8 247.9L475.3 247.6L477.8 247.1L480.3 246.4L482.7 245.4L485.2 244.1L487.7 242.4L490.2 240.2L492.7 237.4L495.1 233.8L497.6 229.5L500.1 224.2L502.6 217.9L505.1 210.6L507.5 202.3L510.0 193.1L512.5 183.2L515.0 172.6L517.5 161.7L519.9 150.8L522.4 140.2L524.9 130.4L527.4 121.7L529.9 114.5L532.4 109.1L534.8 105.8L537.3 104.6L539.8 105.8L542.3 109.1L544.8 114.5L547.2 121.7L549.7 130.4L552.2 140.2L554.7 150.8L557.2 161.7L559.6 172.6L562.1 183.2L564.6 193.1L567.1 202.3L569.6 210.6L572.0 217.9L574.5 224.2L577.0 229.5L579.5 233.8L582.0 237.4L584.5 240.2L586.9 242.4L589.4 244.1L591.9 245.4L594.4 246.4L596.9 247.1L599.3 247.6L601.8 247.9L604.3 248.1L606.8 248.3M461.9 248.3L464.3 248.1L466.7 247.9L469.1 247.5L471.5 247.1L473.9 246.4L476.3 245.4L478.8 244.1L481.2 242.4L483.6 240.1L486.0 237.2L488.4 233.6L490.8 229.1L493.3 223.6L495.7 217.2L498.1 209.7L500.5 201.2L502.9 191.7L505.3 181.5L507.7 170.6L510.2 159.3L512.6 148.0L515.0 137.1L517.4 127.0L519.8 118.0L522.2 110.6L524.6 105.0L527.1 101.5L529.5 100.4L531.9 101.5L534.3 105.0L536.7 110.6L539.1 118.0L541.6 127.0L544.0 137.1L546.4 148.0L548.8 159.3L551.2 170.6L553.6 181.5L556.0 191.7L558.5 201.2L560.9 209.7L563.3 217.2L565.7 223.6L568.1 229.1L570.5 233.6L572.9 237.2L575.4 240.1L577.8 242.4L580.2 244.1L582.6 245.4L585.0 246.4L587.4 247.1L589.9 247.5L592.3 247.9L594.7 248.1L597.1 248.3M450.8 248.3L453.6 248.1L456.4 247.9L459.2 247.6L462.0 247.1L464.8 246.5L467.6 245.6L470.4 244.4L473.2 242.8L476.0 240.8L478.8 238.2L481.6 235.0L484.4 231.1L487.2 226.3L490.0 220.8L492.8 214.3L495.6 207.0L498.4 198.9L501.2 190.2L504.0 181.0L506.8 171.5L509.6 162.0L512.4 152.9L515.2 144.4L518.0 137.0L520.8 130.8L523.6 126.1L526.4 123.3L529.1 122.3L531.9 123.3L534.7 126.1L537.5 130.8L540.3 137.0L543.1 144.4L545.9 152.9L548.7 162.0L551.5 171.5L554.3 181.0L557.1 190.2L559.9 198.9L562.7 207.0L565.5 214.3L568.3 220.8L571.1 226.3L573.9 231.1L576.7 235.0L579.5 238.2L582.3 240.8L585.1 242.8L587.9 244.4L590.7 245.6L593.5 246.5L596.3 247.1L599.1 247.6L601.9 247.9L604.7 248.1L607.5 248.3M467.6 248.3L470.0 248.1L472.4 247.9L474.9 247.5L477.3 247.1L479.7 246.4L482.1 245.4L484.5 244.1L486.9 242.4L489.3 240.1L491.8 237.2L494.2 233.6L496.6 229.1L499.0 223.6L501.4 217.2L503.8 209.7L506.2 201.2L508.7 191.7L511.1 181.4L513.5 170.5L515.9 159.3L518.3 148.0L520.7 137.1L523.1 127.0L525.6 118.0L528.0 110.5L530.4 104.9L532.8 101.5L535.2 100.3L537.6 101.5L540.0 104.9L542.5 110.5L544.9 118.0L547.3 127.0L549.7 137.1L552.1 148.0L554.5 159.3L556.9 170.5L559.4 181.4L561.8 191.7L564.2 201.2L566.6 209.7L569.0 217.2L571.4 223.6L573.8 229.1L576.3 233.6L578.7 237.2L581.1 240.1L583.5 242.4L585.9 244.1L588.3 245.4L590.7 246.4L593.2 247.1L595.6 247.5L598.0 247.9L600.4 248.1L602.8 248.3M469.9 248.3L472.2 248.1L474.5 247.9L476.9 247.5L479.2 247.0L481.5 246.3L483.8 245.3L486.1 244.0L488.4 242.2L490.7 239.9L493.0 236.9L495.3 233.1L497.6 228.4L499.9 222.7L502.2 216.0L504.5 208.1L506.8 199.2L509.1 189.2L511.4 178.4L513.7 166.9L516.0 155.0L518.3 143.1L520.6 131.6L522.9 120.9L525.3 111.3L527.6 103.4L529.9 97.5L532.2 93.9L534.5 92.6L536.8 93.9L539.1 97.5L541.4 103.4L543.7 111.3L546.0 120.9L548.3 131.6L550.6 143.1L552.9 155.0L555.2 166.9L557.5 178.4L559.8 189.2L562.1 199.2L564.4 208.1L566.7 216.0L569.0 222.7L571.3 228.4L573.7 233.1L576.0 236.9L578.3 239.9L580.6 242.2L582.9 244.0L585.2 245.3L587.5 246.3L589.8 247.0L592.1 247.5L594.4 247.9L596.7 248.1L599.0 248.3M453.7 248.3L456.6 248.1L459.6 247.9L462.5 247.6L465.4 247.1L468.3 246.5L471.2 245.6L474.1 244.5L477.1 243.0L480.0 241.0L482.9 238.5L485.8 235.4L488.7 231.6L491.6 227.1L494.6 221.7L497.5 215.5L500.4 208.5L503.3 200.8L506.2 192.5L509.2 183.7L512.1 174.7L515.0 165.7L517.9 157.0L520.8 149.0L523.7 141.9L526.7 136.0L529.6 131.6L532.5 128.9L535.4 127.9L538.3 128.9L541.2 131.6L544.2 136.0L547.1 141.9L550.0 149.0L552.9 157.0L555.8 165.7L558.8 174.7L561.7 183.7L564.6 192.5L567.5 200.8L570.4 208.5L573.3 215.5L576.3 221.7L579.2 227.1L582.1 231.6L585.0 235.4L587.9 238.5L590.8 241.0L593.8 243.0L596.7 244.5L599.6 245.6L602.5 246.5L605.4 247.1L608.4 247.6L611.3 247.9L614.2 248.1L617.1 248.3M468.3 248.3L470.8 248.1L473.3 247.9L475.9 247.6L478.4 247.1L480.9 246.4L483.4 245.4L485.9 244.2L488.5 242.5L491.0 240.3L493.5 237.5L496.0 234.0L498.5 229.7L501.1 224.5L503.6 218.3L506.1 211.1L508.6 203.0L511.2 194.0L513.7 184.1L516.2 173.8L518.7 163.1L521.2 152.4L523.8 142.0L526.3 132.4L528.8 123.9L531.3 116.8L533.8 111.5L536.4 108.2L538.9 107.1L541.4 108.2L543.9 111.5L546.5 116.8L549.0 123.9L551.5 132.4L554.0 142.0L556.5 152.4L559.1 163.1L561.6 173.8L564.1 184.1L566.6 194.0L569.1 203.0L571.7 211.1L574.2 218.3L576.7 224.5L579.2 229.7L581.8 234.0L584.3 237.5L586.8 240.3L589.3 242.5L591.8 244.2L594.4 245.4L596.9 246.4L599.4 247.1L601.9 247.6L604.4 247.9L607.0 248.1L609.5 248.3M457.2 248.3L460.0 248.1L462.8 247.9L465.5 247.6L468.3 247.1L471.1 246.5L473.8 245.6L476.6 244.4L479.4 242.8L482.1 240.8L484.9 238.2L487.7 234.9L490.4 230.9L493.2 226.2L496.0 220.5L498.7 214.0L501.5 206.6L504.3 198.5L507.0 189.6L509.8 180.3L512.6 170.7L515.4 161.1L518.1 151.9L520.9 143.3L523.7 135.7L526.4 129.4L529.2 124.7L532.0 121.8L534.7 120.8L537.5 121.8L540.3 124.7L543.0 129.4L545.8 135.7L548.6 143.3L551.3 151.9L554.1 161.1L556.9 170.7L559.6 180.3L562.4 189.6L565.2 198.5L568.0 206.6L570.7 214.0L573.5 220.5L576.3 226.2L579.0 230.9L581.8 234.9L584.6 238.2L587.3 240.8L590.1 242.8L592.9 244.4L595.6 245.6L598.4 246.5L601.2 247.1L603.9 247.6L606.7 247.9L609.5 248.1L612.3 248.3M469.7 248.3L472.1 248.1L474.5 247.9L476.9 247.5L479.3 247.1L481.7 246.4L484.1 245.4L486.5 244.1L488.9 242.4L491.3 240.1L493.8 237.2L496.2 233.5L498.6 229.0L501.0 223.6L503.4 217.2L505.8 209.6L508.2 201.1L510.6 191.6L513.0 181.3L515.4 170.4L517.9 159.1L520.3 147.8L522.7 136.9L525.1 126.7L527.5 117.7L529.9 110.2L532.3 104.6L534.7 101.2L537.1 100.0L539.5 101.2L542.0 104.6L544.4 110.2L546.8 117.7L549.2 126.7L551.6 136.9L554.0 147.8L556.4 159.1L558.8 170.4L561.2 181.3L563.6 191.6L566.0 201.1L568.5 209.6L570.9 217.2L573.3 223.6L575.7 229.0L578.1 233.5L580.5 237.2L582.9 240.1L585.3 242.4L587.7 244.1L590.1 245.4L592.6 246.4L595.0 247.1L597.4 247.5L599.8 247.9L602.2 248.1L604.6 248.3M452.1 248.3L454.9 248.1L457.8 247.9L460.6 247.6L463.4 247.1L466.3 246.5L469.1 245.6L471.9 244.4L474.8 242.9L477.6 240.9L480.4 238.3L483.2 235.1L486.1 231.2L488.9 226.5L491.7 221.0L494.6 214.7L497.4 207.5L500.2 199.5L503.1 190.9L505.9 181.8L508.7 172.4L511.6 163.1L514.4 154.1L517.2 145.8L520.1 138.4L522.9 132.3L525.7 127.7L528.5 124.9L531.4 123.9L534.2 124.9L537.0 127.7L539.9 132.3L542.7 138.4L545.5 145.8L548.4 154.1L551.2 163.1L554.0 172.4L556.9 181.8L559.7 190.9L562.5 199.5L565.3 207.5L568.2 214.7L571.0 221.0L573.8 226.5L576.7 231.2L579.5 235.1L582.3 238.3L585.2 240.9L588.0 242.9L590.8 244.4L593.7 245.6L596.5 246.5L599.3 247.1L602.2 247.6L605.0 247.9L607.8 248.1L610.6 248.3M466.1 248.3L468.6 248.1L471.0 247.9L473.5 247.6L475.9 247.1L478.4 246.4L480.8 245.4L483.3 244.1L485.7 242.4L488.2 240.2L490.6 237.3L493.1 233.7L495.5 229.3L497.9 223.9L500.4 217.5L502.8 210.2L505.3 201.8L507.7 192.4L510.2 182.3L512.6 171.5L515.1 160.5L517.5 149.4L520.0 138.6L522.4 128.6L524.9 119.8L527.3 112.5L529.8 107.0L532.2 103.6L534.6 102.4L537.1 103.6L539.5 107.0L542.0 112.5L544.4 119.8L546.9 128.6L549.3 138.6L551.8 149.4L554.2 160.5L556.7 171.5L559.1 182.3L561.6 192.4L564.0 201.8L566.4 210.2L568.9 217.5L571.3 223.9L573.8 229.3L576.2 233.7L578.7 237.3L581.1 240.2L583.6 242.4L586.0 244.1L588.5 245.4L590.9 246.4L593.4 247.1L595.8 247.6L598.3 247.9L600.7 248.1L603.1 248.3M473.2 248.3L475.5 248.1L477.8 247.9L480.0 247.5L482.3 247.0L484.6 246.3L486.9 245.3L489.2 244.0L491.5 242.2L493.8 239.8L496.0 236.8L498.3 233.0L500.6 228.3L502.9 222.6L505.2 215.8L507.5 207.9L509.8 198.9L512.0 188.8L514.3 177.9L516.6 166.3L518.9 154.3L521.2 142.3L523.5 130.6L525.8 119.8L528.1 110.2L530.3 102.2L532.6 96.2L534.9 92.5L537.2 91.3L539.5 92.5L541.8 96.2L544.1 102.2L546.3 110.2L548.6 119.8L550.9 130.6L553.2 142.3L555.5 154.3L557.8 166.3L560.1 177.9L562.3 188.8L564.6 198.9L566.9 207.9L569.2 215.8L571.5 222.6L573.8 228.3L576.1 233.0L578.4 236.8L580.6 239.8L582.9 242.2L585.2 244.0L587.5 245.3L589.8 246.3L592.1 247.0L594.4 247.5L596.6 247.9L598.9 248.1L601.2 248.3M464.1 248.3L466.6 248.1L469.0 247.9L471.4 247.5L473.8 247.1L476.2 246.4L478.6 245.4L481.0 244.1L483.4 242.4L485.9 240.1L488.3 237.2L490.7 233.6L493.1 229.1L495.5 223.6L497.9 217.2L500.3 209.7L502.7 201.2L505.2 191.7L507.6 181.4L510.0 170.5L512.4 159.2L514.8 148.0L517.2 137.0L519.6 126.9L522.1 117.9L524.5 110.4L526.9 104.9L529.3 101.4L531.7 100.2L534.1 101.4L536.5 104.9L538.9 110.4L541.4 117.9L543.8 126.9L546.2 137.0L548.6 148.0L551.0 159.2L553.4 170.5L555.8 181.4L558.3 191.7L560.7 201.2L563.1 209.7L565.5 217.2L567.9 223.6L570.3 229.1L572.7 233.6L575.1 237.2L577.6 240.1L580.0 242.4L582.4 244.1L584.8 245.4L587.2 246.4L589.6 247.1L592.0 247.5L594.4 247.9L596.9 248.1L599.3 248.3M461.7 248.3L464.6 248.1L467.5 247.9L470.4 247.6L473.2 247.1L476.1 246.5L479.0 245.6L481.8 244.4L484.7 242.9L487.6 240.9L490.5 238.4L493.3 235.3L496.2 231.4L499.1 226.8L501.9 221.3L504.8 215.1L507.7 208.0L510.6 200.1L513.4 191.6L516.3 182.7L519.2 173.5L522.0 164.3L524.9 155.5L527.8 147.3L530.6 140.0L533.5 134.0L536.4 129.5L539.3 126.8L542.1 125.8L545.0 126.8L547.9 129.5L550.7 134.0L553.6 140.0L556.5 147.3L559.4 155.5L562.2 164.3L565.1 173.5L568.0 182.7L570.8 191.6L573.7 200.1L576.6 208.0L579.5 215.1L582.3 221.3L585.2 226.8L588.1 231.4L590.9 235.3L593.8 238.4L596.7 240.9L599.6 242.9L602.4 244.4L605.3 245.6L608.2 246.5L611.0 247.1L613.9 247.6L616.8 247.9L619.7 248.1L622.5 248.3M466.8 248.3L469.3 248.1L471.7 247.9L474.1 247.6L476.5 247.1L479.0 246.4L481.4 245.4L483.8 244.1L486.2 242.4L488.7 240.1L491.1 237.2L493.5 233.6L495.9 229.1L498.4 223.7L500.8 217.3L503.2 209.9L505.6 201.4L508.1 192.0L510.5 181.7L512.9 170.9L515.3 159.7L517.8 148.5L520.2 137.6L522.6 127.5L525.0 118.6L527.5 111.2L529.9 105.6L532.3 102.2L534.7 101.0L537.2 102.2L539.6 105.6L542.0 111.2L544.4 118.6L546.9 127.5L549.3 137.6L551.7 148.5L554.1 159.7L556.6 170.9L559.0 181.7L561.4 192.0L563.8 201.4L566.3 209.9L568.7 217.3L571.1 223.7L573.5 229.1L576.0 233.6L578.4 237.2L580.8 240.1L583.2 242.4L585.7 244.1L588.1 245.4L590.5 246.4L592.9 247.1L595.4 247.6L597.8 247.9L600.2 248.1L602.6 248.3M453.4 248.3L456.2 248.1L459.0 247.9L461.7 247.6L464.5 247.1L467.2 246.5L470.0 245.6L472.8 244.4L475.5 242.8L478.3 240.7L481.0 238.1L483.8 234.9L486.6 230.9L489.3 226.1L492.1 220.5L494.8 213.9L497.6 206.5L500.4 198.3L503.1 189.5L505.9 180.1L508.6 170.5L511.4 160.9L514.2 151.6L516.9 143.0L519.7 135.4L522.5 129.1L525.2 124.4L528.0 121.4L530.7 120.5L533.5 121.4L536.3 124.4L539.0 129.1L541.8 135.4L544.5 143.0L547.3 151.6L550.1 160.9L552.8 170.5L555.6 180.1L558.3 189.5L561.1 198.3L563.9 206.5L566.6 213.9L569.4 220.5L572.2 226.1L574.9 230.9L577.7 234.9L580.4 238.1L583.2 240.7L586.0 242.8L588.7 244.4L591.5 245.6L594.2 246.5L597.0 247.1L599.8 247.6L602.5 247.9L605.3 248.1L608.0 248.3M470.3 248.3L472.8 248.1L475.2 247.9L477.6 247.6L480.1 247.1L482.5 246.4L485.0 245.4L487.4 244.1L489.8 242.4L492.3 240.2L494.7 237.3L497.2 233.7L499.6 229.2L502.0 223.8L504.5 217.5L506.9 210.1L509.4 201.6L511.8 192.3L514.2 182.1L516.7 171.3L519.1 160.2L521.5 149.1L524.0 138.3L526.4 128.3L528.9 119.4L531.3 112.1L533.7 106.6L536.2 103.1L538.6 102.0L541.1 103.1L543.5 106.6L545.9 112.1L548.4 119.4L550.8 128.3L553.3 138.3L555.7 149.1L558.1 160.2L560.6 171.3L563.0 182.1L565.5 192.3L567.9 201.6L570.3 210.1L572.8 217.5L575.2 223.8L577.7 229.2L580.1 233.7L582.5 237.3L585.0 240.2L587.4 242.4L589.9 244.1L592.3 245.4L594.7 246.4L597.2 247.1L599.6 247.6L602.1 247.9L604.5 248.1L606.9 248.3M453.4 248.3L456.5 248.1L459.5 247.9L462.5 247.6L465.6 247.2L468.6 246.5L471.6 245.7L474.6 244.6L477.7 243.1L480.7 241.2L483.7 238.7L486.8 235.7L489.8 232.1L492.8 227.7L495.9 222.5L498.9 216.6L501.9 209.9L505.0 202.5L508.0 194.5L511.0 186.1L514.0 177.4L517.1 168.9L520.1 160.6L523.1 152.9L526.2 146.1L529.2 140.5L532.2 136.3L535.3 133.7L538.3 132.8L541.3 133.7L544.3 136.3L547.4 140.5L550.4 146.1L553.4 152.9L556.5 160.6L559.5 168.9L562.5 177.4L565.6 186.1L568.6 194.5L571.6 202.5L574.7 209.9L577.7 216.6L580.7 222.5L583.7 227.7L586.8 232.1L589.8 235.7L592.8 238.7L595.9 241.2L598.9 243.1L601.9 244.6L605.0 245.7L608.0 246.5L611.0 247.2L614.0 247.6L617.1 247.9L620.1 248.1L623.1 248.3M460.0 248.3L462.8 248.1L465.5 247.9L468.3 247.6L471.0 247.1L473.8 246.5L476.5 245.6L479.3 244.4L482.0 242.8L484.8 240.7L487.5 238.1L490.3 234.9L493.0 230.9L495.8 226.1L498.5 220.4L501.3 213.8L504.0 206.4L506.8 198.2L509.6 189.3L512.3 179.9L515.1 170.2L517.8 160.6L520.6 151.3L523.3 142.6L526.1 135.0L528.8 128.7L531.6 123.9L534.3 121.0L537.1 120.0L539.8 121.0L542.6 123.9L545.3 128.7L548.1 135.0L550.8 142.6L553.6 151.3L556.3 160.6L559.1 170.2L561.8 179.9L564.6 189.3L567.3 198.2L570.1 206.4L572.9 213.8L575.6 220.4L578.4 226.1L581.1 230.9L583.9 234.9L586.6 238.1L589.4 240.7L592.1 242.8L594.9 244.4L597.6 245.6L600.4 246.5L603.1 247.1L605.9 247.6L608.6 247.9L611.4 248.1L614.1 248.3M450.8 248.3L453.9 248.1L456.9 247.9L460.0 247.6L463.0 247.2L466.1 246.5L469.1 245.7L472.2 244.6L475.3 243.1L478.3 241.2L481.4 238.8L484.4 235.8L487.5 232.2L490.5 227.8L493.6 222.7L496.6 216.8L499.7 210.1L502.7 202.8L505.8 194.9L508.8 186.5L511.9 178.0L514.9 169.5L518.0 161.2L521.0 153.6L524.1 146.9L527.2 141.4L530.2 137.2L533.3 134.6L536.3 133.8L539.4 134.6L542.4 137.2L545.5 141.4L548.5 146.9L551.6 153.6L554.6 161.2L557.7 169.5L560.7 178.0L563.8 186.5L566.8 194.9L569.9 202.8L573.0 210.1L576.0 216.8L579.1 222.7L582.1 227.8L585.2 232.2L588.2 235.8L591.3 238.8L594.3 241.2L597.4 243.1L600.4 244.6L603.5 245.7L606.5 246.5L609.6 247.2L612.6 247.6L615.7 247.9L618.8 248.1L621.8 248.3M471.4 248.3L473.6 248.1L475.8 247.9L478.1 247.5L480.3 247.0L482.6 246.3L484.8 245.3L487.0 243.9L489.3 242.1L491.5 239.7L493.7 236.6L496.0 232.8L498.2 228.0L500.4 222.1L502.7 215.2L504.9 207.1L507.2 197.9L509.4 187.6L511.6 176.4L513.9 164.5L516.1 152.2L518.3 139.9L520.6 127.9L522.8 116.8L525.1 106.9L527.3 98.7L529.5 92.6L531.8 88.8L534.0 87.5L536.2 88.8L538.5 92.6L540.7 98.7L542.9 106.9L545.2 116.8L547.4 127.9L549.7 139.9L551.9 152.2L554.1 164.5L556.4 176.4L558.6 187.6L560.8 197.9L563.1 207.1L565.3 215.2L567.6 222.1L569.8 228.0L572.0 232.8L574.3 236.6L576.5 239.7L578.7 242.1L581.0 243.9L583.2 245.3L585.4 246.3L587.7 247.0L589.9 247.5L592.2 247.9L594.4 248.1L596.6 248.3M470.8 248.3L473.0 248.1L475.2 247.9L477.4 247.5L479.6 247.0L481.8 246.3L484.0 245.3L486.2 243.9L488.4 242.0L490.6 239.6L492.8 236.5L495.0 232.6L497.2 227.7L499.4 221.8L501.6 214.7L503.8 206.5L506.0 197.1L508.2 186.6L510.4 175.1L512.6 163.0L514.8 150.5L517.0 137.9L519.2 125.6L521.4 114.3L523.6 104.2L525.8 95.8L528.0 89.5L530.2 85.6L532.3 84.3L534.5 85.6L536.7 89.5L538.9 95.8L541.1 104.2L543.3 114.3L545.5 125.6L547.7 137.9L549.9 150.5L552.1 163.0L554.3 175.1L556.5 186.6L558.7 197.1L560.9 206.5L563.1 214.7L565.3 221.8L567.5 227.7L569.7 232.6L571.9 236.5L574.1 239.6L576.3 242.0L578.5 243.9L580.7 245.3L582.9 246.3L585.1 247.0L587.3 247.5L589.5 247.9L591.7 248.1L593.9 248.3M473.1 248.3L475.5 248.1L477.9 247.9L480.3 247.5L482.7 247.0L485.0 246.3L487.4 245.4L489.8 244.1L492.2 242.3L494.6 240.1L497.0 237.1L499.4 233.5L501.8 228.9L504.2 223.5L506.6 217.0L509.0 209.4L511.4 200.8L513.8 191.2L516.1 180.8L518.5 169.8L520.9 158.4L523.3 147.1L525.7 136.0L528.1 125.8L530.5 116.7L532.9 109.1L535.3 103.5L537.7 100.0L540.1 98.8L542.5 100.0L544.8 103.5L547.2 109.1L549.6 116.7L552.0 125.8L554.4 136.0L556.8 147.1L559.2 158.4L561.6 169.8L564.0 180.8L566.4 191.2L568.8 200.8L571.2 209.4L573.6 217.0L575.9 223.5L578.3 228.9L580.7 233.5L583.1 237.1L585.5 240.1L587.9 242.3L590.3 244.1L592.7 245.4L595.1 246.3L597.5 247.0L599.9 247.5L602.3 247.9L604.6 248.1L607.0 248.3M454.8 248.3L457.8 248.1L460.8 247.9L463.7 247.6L466.7 247.1L469.6 246.5L472.6 245.7L475.5 244.5L478.5 243.0L481.5 241.1L484.4 238.6L487.4 235.5L490.3 231.8L493.3 227.3L496.2 222.0L499.2 215.9L502.1 209.0L505.1 201.4L508.1 193.2L511.0 184.5L514.0 175.7L516.9 166.8L519.9 158.3L522.8 150.3L525.8 143.3L528.8 137.6L531.7 133.2L534.7 130.6L537.6 129.7L540.6 130.6L543.5 133.2L546.5 137.6L549.4 143.3L552.4 150.3L555.4 158.3L558.3 166.8L561.3 175.7L564.2 184.5L567.2 193.2L570.1 201.4L573.1 209.0L576.1 215.9L579.0 222.0L582.0 227.3L584.9 231.8L587.9 235.5L590.8 238.6L593.8 241.1L596.7 243.0L599.7 244.5L602.7 245.7L605.6 246.5L608.6 247.1L611.5 247.6L614.5 247.9L617.4 248.1L620.4 248.3M469.7 248.3L472.1 248.1L474.4 247.9L476.8 247.5L479.1 247.0L481.5 246.3L483.8 245.4L486.2 244.0L488.6 242.3L490.9 240.0L493.3 237.0L495.6 233.3L498.0 228.7L500.3 223.2L502.7 216.6L505.1 208.9L507.4 200.2L509.8 190.5L512.1 179.9L514.5 168.7L516.9 157.1L519.2 145.5L521.6 134.3L523.9 123.9L526.3 114.6L528.6 106.9L531.0 101.2L533.4 97.6L535.7 96.4L538.1 97.6L540.4 101.2L542.8 106.9L545.1 114.6L547.5 123.9L549.9 134.3L552.2 145.5L554.6 157.1L556.9 168.7L559.3 179.9L561.6 190.5L564.0 200.2L566.4 208.9L568.7 216.6L571.1 223.2L573.4 228.7L575.8 233.3L578.1 237.0L580.5 240.0L582.9 242.3L585.2 244.0L587.6 245.4L589.9 246.3L592.3 247.0L594.6 247.5L597.0 247.9L599.4 248.1L601.7 248.3M450.4 248.3L453.2 248.1L456.1 247.9L459.0 247.6L461.9 247.1L464.7 246.5L467.6 245.6L470.5 244.4L473.3 242.9L476.2 240.9L479.1 238.4L482.0 235.3L484.8 231.4L487.7 226.8L490.6 221.4L493.4 215.1L496.3 208.0L499.2 200.1L502.1 191.7L504.9 182.7L507.8 173.5L510.7 164.4L513.6 155.5L516.4 147.3L519.3 140.1L522.2 134.1L525.0 129.6L527.9 126.8L530.8 125.9L533.7 126.8L536.5 129.6L539.4 134.1L542.3 140.1L545.1 147.3L548.0 155.5L550.9 164.4L553.8 173.5L556.6 182.7L559.5 191.7L562.4 200.1L565.3 208.0L568.1 215.1L571.0 221.4L573.9 226.8L576.7 231.4L579.6 235.3L582.5 238.4L585.4 240.9L588.2 242.9L591.1 244.4L594.0 245.6L596.8 246.5L599.7 247.1L602.6 247.6L605.5 247.9L608.3 248.1L611.2 248.3M475.3 248.3L477.6 248.1L479.9 247.9L482.2 247.5L484.5 247.0L486.8 246.3L489.1 245.3L491.4 244.0L493.7 242.2L496.0 239.9L498.3 236.9L500.6 233.1L502.9 228.4L505.2 222.7L507.5 216.0L509.8 208.1L512.1 199.2L514.4 189.2L516.7 178.3L519.0 166.8L521.3 154.9L523.6 143.0L525.9 131.5L528.2 120.7L530.5 111.2L532.8 103.3L535.1 97.4L537.4 93.7L539.7 92.4L542.0 93.7L544.3 97.4L546.6 103.3L548.9 111.2L551.2 120.7L553.6 131.5L555.9 143.0L558.2 154.9L560.5 166.8L562.8 178.3L565.1 189.2L567.4 199.2L569.7 208.1L572.0 216.0L574.3 222.7L576.6 228.4L578.9 233.1L581.2 236.9L583.5 239.9L585.8 242.2L588.1 244.0L590.4 245.3L592.7 246.3L595.0 247.0L597.3 247.5L599.6 247.9L601.9 248.1L604.2 248.3M453.3 248.3L456.2 248.1L459.1 247.9L462.0 247.6L464.9 247.1L467.8 246.5L470.7 245.6L473.7 244.5L476.6 243.0L479.5 241.0L482.4 238.5L485.3 235.4L488.2 231.6L491.1 227.0L494.0 221.7L496.9 215.5L499.9 208.5L502.8 200.7L505.7 192.4L508.6 183.6L511.5 174.5L514.4 165.5L517.3 156.8L520.2 148.7L523.1 141.6L526.1 135.7L529.0 131.3L531.9 128.6L534.8 127.7L537.7 128.6L540.6 131.3L543.5 135.7L546.4 141.6L549.3 148.7L552.3 156.8L555.2 165.5L558.1 174.5L561.0 183.6L563.9 192.4L566.8 200.7L569.7 208.5L572.6 215.5L575.5 221.7L578.5 227.0L581.4 231.6L584.3 235.4L587.2 238.5L590.1 241.0L593.0 243.0L595.9 244.5L598.8 245.6L601.7 246.5L604.7 247.1L607.6 247.6L610.5 247.9L613.4 248.1L616.3 248.3M467.9 248.3L470.3 248.1L472.8 247.9L475.2 247.6L477.7 247.1L480.1 246.4L482.6 245.4L485.0 244.1L487.5 242.4L489.9 240.2L492.4 237.3L494.8 233.7L497.3 229.3L499.7 223.9L502.2 217.6L504.6 210.2L507.1 201.8L509.5 192.5L512.0 182.4L514.4 171.7L516.9 160.6L519.3 149.6L521.8 138.8L524.2 128.9L526.7 120.1L529.1 112.7L531.6 107.3L534.0 103.9L536.5 102.7L538.9 103.9L541.4 107.3L543.8 112.7L546.3 120.1L548.7 128.9L551.2 138.8L553.6 149.6L556.1 160.6L558.5 171.7L561.0 182.4L563.5 192.5L565.9 201.8L568.4 210.2L570.8 217.6L573.3 223.9L575.7 229.3L578.2 233.7L580.6 237.3L583.1 240.2L585.5 242.4L588.0 244.1L590.4 245.4L592.9 246.4L595.3 247.1L597.8 247.6L600.2 247.9L602.7 248.1L605.1 248.3M480.0 248.3L482.0 248.1L484.0 247.9L486.0 247.5L488.0 247.0L489.9 246.2L491.9 245.1L493.9 243.7L495.9 241.7L497.9 239.1L499.9 235.7L501.9 231.4L503.8 226.1L505.8 219.6L507.8 211.8L509.8 202.7L511.8 192.2L513.8 180.6L515.8 167.8L517.7 154.2L519.7 140.1L521.7 125.9L523.7 112.1L525.7 99.3L527.7 87.8L529.7 78.3L531.7 71.2L533.6 66.8L535.6 65.3L537.6 66.8L539.6 71.2L541.6 78.3L543.6 87.8L545.6 99.3L547.5 112.1L549.5 125.9L551.5 140.1L553.5 154.2L555.5 167.8L557.5 180.6L559.5 192.2L561.5 202.7L563.4 211.8L565.4 219.6L567.4 226.1L569.4 231.4L571.4 235.7L573.4 239.1L575.4 241.7L577.3 243.7L579.3 245.1L581.3 246.2L583.3 247.0L585.3 247.5L587.3 247.9L589.3 248.1L591.2 248.3M469.8 248.3L471.8 248.1L473.9 247.9L475.9 247.5L478.0 247.0L480.0 246.2L482.1 245.2L484.1 243.7L486.2 241.8L488.2 239.2L490.3 235.9L492.3 231.8L494.4 226.6L496.4 220.2L498.5 212.7L500.5 203.8L502.5 193.7L504.6 182.4L506.6 170.1L508.7 156.9L510.7 143.3L512.8 129.6L514.8 116.3L516.9 103.9L518.9 92.9L521.0 83.8L523.0 76.9L525.1 72.7L527.1 71.2L529.2 72.7L531.2 76.9L533.3 83.8L535.3 92.9L537.3 103.9L539.4 116.3L541.4 129.6L543.5 143.3L545.5 156.9L547.6 170.1L549.6 182.4L551.7 193.7L553.7 203.8L555.8 212.7L557.8 220.2L559.9 226.6L561.9 231.8L564.0 235.9L566.0 239.2L568.1 241.8L570.1 243.7L572.1 245.2L574.2 246.2L576.2 247.0L578.3 247.5L580.3 247.9L582.4 248.1L584.4 248.3M476.4 248.3L478.5 248.1L480.5 247.9L482.6 247.5L484.7 247.0L486.8 246.2L488.9 245.2L491.0 243.8L493.1 241.9L495.2 239.3L497.3 236.1L499.3 232.0L501.4 226.9L503.5 220.7L505.6 213.3L507.7 204.6L509.8 194.7L511.9 183.6L514.0 171.6L516.1 158.7L518.1 145.4L520.2 132.0L522.3 119.1L524.4 107.0L526.5 96.2L528.6 87.3L530.7 80.6L532.8 76.5L534.9 75.1L537.0 76.5L539.0 80.6L541.1 87.3L543.2 96.2L545.3 107.0L547.4 119.1L549.5 132.0L551.6 145.4L553.7 158.7L555.8 171.6L557.8 183.6L559.9 194.7L562.0 204.6L564.1 213.3L566.2 220.7L568.3 226.9L570.4 232.0L572.5 236.1L574.6 239.3L576.6 241.9L578.7 243.8L580.8 245.2L582.9 246.2L585.0 247.0L587.1 247.5L589.2 247.9L591.3 248.1L593.4 248.3" fill="none" stroke="#ff0000" stroke-width="0.9"/>
<polyline points="390.5,248.6 391.5,248.6 392.4,248.6 393.4,248.6 394.3,248.6 395.3,248.6 396.2,248.6 397.2,248.6 398.2,248.6 399.1,248.6 400.1,248.6 401.0,248.6 402.0,248.6 402.9,248.6 403.9,248.6 404.8,248.6 405.8,248.6 406.8,248.6 407.7,248.6 408.7,248.6 409.6,248.6 410.6,248.6 411.5,248.6 412.5,248.6 413.5,248.6 414.4,248.6 415.4,248.6 416.3,248.6 417.3,248.6 418.2,248.6 419.2,248.6 420.2,248.6 421.1,248.6 422.1,248.6 423.0,248.6 424.0,248.6 424.9,248.6 425.9,248.6 426.9,248.6 427.8,248.6 428.8,248.6 429.7,248.6 430.7,248.6 431.6,248.6 432.6,248.6 433.6,248.6 434.5,248.6 435.5,248.6 436.4,248.6 437.4,248.6 438.3,248.6 439.3,248.6 440.2,248.6 441.2,248.6 442.2,248.6 443.1,248.6 444.1,248.6 445.0,248.6 446.0,248.6 446.9,248.6 447.9,248.6 448.9,248.6 449.8,248.6 450.8,248.6 451.7,248.5 452.7,248.5 453.6,248.5 454.6,248.5 455.6,248.5 456.5,248.5 457.5,248.4 458.4,248.4 459.4,248.4 460.3,248.3 461.3,248.3 462.2,248.3 463.2,248.2 464.2,248.1 465.1,248.0 466.1,248.0 467.0,247.9 468.0,247.7 468.9,247.6 469.9,247.5 470.9,247.3 471.8,247.1 472.8,246.9 473.7,246.6 474.7,246.3 475.6,246.0 476.6,245.7 477.6,245.3 478.5,244.8 479.5,244.3 480.4,243.8 481.4,243.2 482.3,242.5 483.3,241.8 484.3,241.0 485.2,240.2 486.2,239.2 487.1,238.2 488.1,237.0 489.0,235.8 490.0,234.5 490.9,233.1 491.9,231.5 492.9,229.9 493.8,228.1 494.8,226.2 495.7,224.2 496.7,222.1 497.6,219.8 498.6,217.4 499.6,214.9 500.5,212.3 501.5,209.5 502.4,206.6 503.4,203.6 504.3,200.5 505.3,197.3 506.3,193.9 507.2,190.5 508.2,187.0 509.1,183.4 510.1,179.7 511.0,176.0 512.0,172.3 513.0,168.5 513.9,164.7 514.9,161.0 515.8,157.2 516.8,153.5 517.7,149.8 518.7,146.3 519.6,142.8 520.6,139.4 521.6,136.1 522.5,133.0 523.5,130.1 524.4,127.3 525.4,124.7 526.3,122.4 527.3,120.2 528.3,118.4 529.2,116.7 530.2,115.3 531.1,114.2 532.1,113.3 533.0,112.8 534.0,112.5 535.0,112.5 535.9,112.8 536.9,113.3 537.8,114.2 538.8,115.3 539.7,116.7 540.7,118.4 541.7,120.2 542.6,122.4 543.6,124.7 544.5,127.3 545.5,130.1 546.4,133.0 547.4,136.1 548.4,139.4 549.3,142.8 550.3,146.3 551.2,149.8 552.2,153.5 553.1,157.2 554.1,161.0 555.0,164.7 556.0,168.5 557.0,172.3 557.9,176.0 558.9,179.7 559.8,183.4 560.8,187.0 561.7,190.5 562.7,193.9 563.7,197.3 564.6,200.5 565.6,203.6 566.5,206.6 567.5,209.5 568.4,212.3 569.4,214.9 570.4,217.4 571.3,219.8 572.3,222.1 573.2,224.2 574.2,226.2 575.1,228.1 576.1,229.9 577.0,231.5 578.0,233.1 579.0,234.5 579.9,235.8 580.9,237.0 581.8,238.2 582.8,239.2 583.7,240.2 584.7,241.0 585.7,241.8 586.6,242.5 587.6,243.2 588.5,243.8 589.5,244.3 590.4,244.8 591.4,245.3 592.4,245.7 593.3,246.0 594.3,246.3 595.2,246.6 596.2,246.9 597.1,247.1 598.1,247.3 599.1,247.5 600.0,247.6 601.0,247.7 601.9,247.9 602.9,248.0 603.8,248.0 604.8,248.1 605.8,248.2 606.7,248.3 607.7,248.3 608.6,248.3 609.6,248.4 610.5,248.4 611.5,248.4 612.4,248.5 613.4,248.5 614.4,248.5 615.3,248.5 616.3,248.5 617.2,248.5 618.2,248.6 619.1,248.6 620.1,248.6 621.1,248.6 622.0,248.6 623.0,248.6 623.9,248.6 624.9,248.6 625.8,248.6 626.8,248.6 627.8,248.6 628.7,248.6 629.7,248.6 630.6,248.6 631.6,248.6 632.5,248.6 633.5,248.6 634.4,248.6 635.4,248.6 636.4,248.6 637.3,248.6 638.3,248.6 639.2,248.6 640.2,248.6 641.1,248.6 642.1,248.6 643.1,248.6 644.0,248.6 645.0,248.6 645.9,248.6 646.9,248.6 647.8,248.6 648.8,248.6 649.8,248.6 650.7,248.6 651.7,248.6 652.6,248.6 653.6,248.6 654.5,248.6 655.5,248.6 656.5,248.6 657.4,248.6 658.4,248.6 659.3,248.6 660.3,248.6 661.2,248.6 662.2,248.6 663.2,248.6 664.1,248.6 665.1,248.6 666.0,248.6 667.0,248.6 667.9,248.6 668.9,248.6 669.8,248.6 670.8,248.6 671.8,248.6 672.7,248.6 673.7,248.6 674.6,248.6 675.6,248.6 676.5,248.6 677.5,248.6" fill="none" stroke="#1c00e6" stroke-width="1.9"/>
<path d="M513.6 25.3V248.6M555.6 25.3V248.6" stroke="#5c5cff" stroke-width="1.1" stroke-dasharray="6.2 3.8"/>
<path d="M534.5 26.6V248.6" stroke="#5c5cff" stroke-width="1.1" stroke-dasharray="4.9 2.2 0.9 2"/>
<text x="390.50" y="263.80" font-size="12.2" text-anchor="middle">-1.5</text>
<text x="438.33" y="263.80" font-size="12.2" text-anchor="middle">-1</text>
<text x="486.17" y="263.80" font-size="12.2" text-anchor="middle">-0.5</text>
<text x="534.00" y="263.80" font-size="12.2" text-anchor="middle">0</text>
<text x="581.83" y="263.80" font-size="12.2" text-anchor="middle">0.5</text>
<text x="629.67" y="263.80" font-size="12.2" text-anchor="middle">1</text>
<text x="677.50" y="263.80" font-size="12.2" text-anchor="middle">1.5</text>
<text x="386.30" y="252.90" font-size="12.2" text-anchor="end">0</text>
<text x="386.30" y="215.63" font-size="12.2" text-anchor="end">0.5</text>
<text x="386.30" y="178.37" font-size="12.2" text-anchor="end">1</text>
<text x="386.30" y="141.10" font-size="12.2" text-anchor="end">1.5</text>
<text x="386.30" y="103.83" font-size="12.2" text-anchor="end">2</text>
<text x="386.30" y="66.57" font-size="12.2" text-anchor="end">2.5</text>
<text x="386.30" y="29.30" font-size="12.2" text-anchor="end">3</text>
<text x="532.7" y="282.4" font-size="12.3" text-anchor="middle">Interface-parallel displacement error (&#956;m)</text>
<text transform="translate(365.4 136.7) rotate(-90)" font-size="12.9" text-anchor="middle">Probability distribution</text>
<text x="355.0" y="13.6" font-size="19" font-weight="bold" style="stroke:none">(b)</text>
<rect x="250.06" y="263.04" width="3.15" height="2.36" fill="#fff"/>
<rect x="254.58" y="263.04" width="2.88" height="2.36" fill="#fff"/>
<rect x="294.64" y="263.04" width="3.15" height="2.36" fill="#fff"/>
<rect x="299.16" y="263.04" width="2.88" height="2.36" fill="#fff"/>
<rect x="29.35" y="30.14" width="3.15" height="2.36" fill="#fff"/>
<rect x="33.87" y="30.14" width="2.88" height="2.36" fill="#fff"/>
<rect x="383.98" y="262.60" width="3.00" height="2.30" fill="#fff"/>
<rect x="388.28" y="262.60" width="2.73" height="2.30" fill="#fff"/>
<rect x="436.91" y="262.60" width="3.00" height="2.30" fill="#fff"/>
<rect x="441.20" y="262.60" width="2.73" height="2.30" fill="#fff"/>
<rect x="626.21" y="262.60" width="3.00" height="2.30" fill="#fff"/>
<rect x="630.51" y="262.60" width="2.73" height="2.30" fill="#fff"/>
<rect x="668.95" y="262.60" width="3.00" height="2.30" fill="#fff"/>
<rect x="673.25" y="262.60" width="2.73" height="2.30" fill="#fff"/>
<rect x="379.45" y="177.16" width="3.00" height="2.30" fill="#fff"/>
<rect x="383.75" y="177.16" width="2.73" height="2.30" fill="#fff"/>
<rect x="369.27" y="139.90" width="3.00" height="2.30" fill="#fff"/>
<rect x="373.57" y="139.90" width="2.73" height="2.30" fill="#fff"/>
</svg>
</body></html>
